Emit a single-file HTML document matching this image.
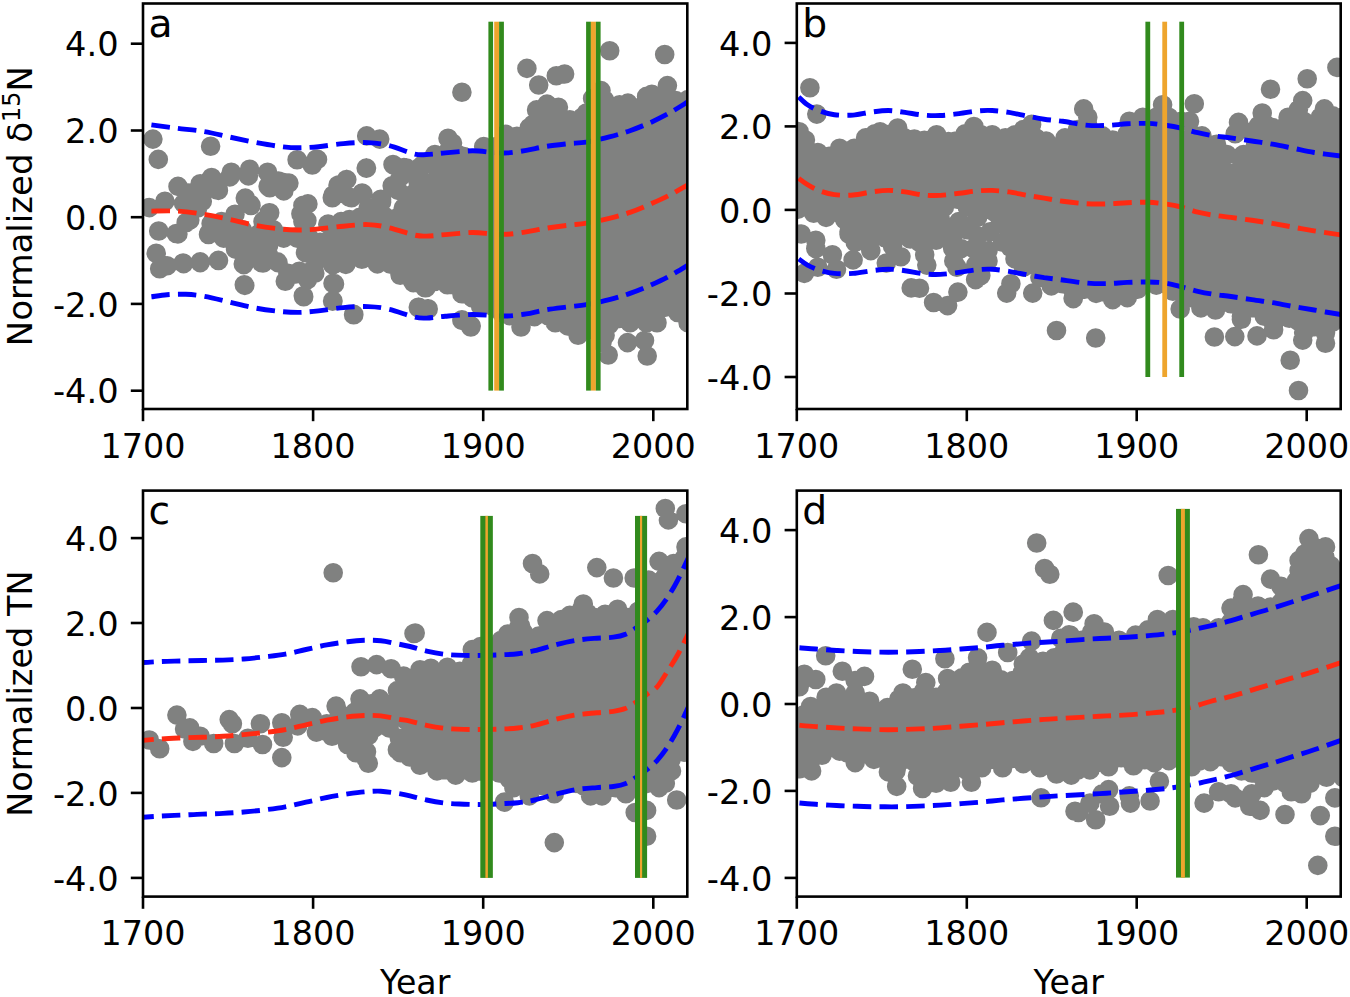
<!DOCTYPE html>
<html lang="en"><head><meta charset="utf-8"><title>Figure</title>
<style>html,body{margin:0;padding:0;background:#fff}svg{display:block}text{font-family:"DejaVu Sans","Liberation Sans",sans-serif;fill:#000}</style></head><body>
<svg width="1350" height="997" viewBox="0 0 1350 997">
<rect width="1350" height="997" fill="#fff"/>
<g id="panel-a">
<clipPath id="clipa"><rect x="143.0" y="3.5" width="544.3" height="405.5"/></clipPath>
<g clip-path="url(#clipa)">
<path d="M152.9 139.1h0M158.3 159.4h0M210.6 146.3h0M297.1 159.8h0M312.3 165.0h0M317.5 159.4h0M366.7 135.9h0M379.7 139.1h0M366.2 168.1h0M393.6 165.0h0M406.7 168.1h0M420.0 167.1h0M149.3 207.6h0M164.9 201.3h0M178.0 186.4h0M188.8 193.0h0M200.2 183.7h0M211.6 177.5h0M216.8 189.9h0M231.3 172.3h0M249.6 169.2h0M267.6 172.3h0M269.7 187.8h0M283.8 182.6h0M283.8 190.9h0M189.8 220.0h0M196.0 207.6h0M202.3 201.3h0M183.6 203.4h0M245.4 198.2h0M251.0 205.5h0M269.7 212.7h0M264.5 220.0h0M302.9 205.5h0M300.9 213.8h0M304.0 222.1h0M333.0 195.1h0M339.3 184.7h0M346.5 179.5h0M349.6 197.2h0M362.1 193.0h0M380.8 199.2h0M392.2 185.8h0M403.6 207.6h0M420.0 188.9h0M158.7 231.0h0M176.3 233.5h0M156.2 253.2h0M159.7 268.8h0M167.0 265.7h0M183.6 263.6h0M200.2 262.6h0M218.5 260.5h0M208.5 234.5h0M227.2 234.5h0M235.5 249.1h0M243.8 264.6h0M244.8 285.4h0M261.4 262.6h0M278.0 262.6h0M285.3 281.2h0M295.7 274.0h0M312.3 270.9h0M303.3 295.8h0M333.0 283.3h0M333.0 301.0h0M353.8 314.4h0M327.8 224.2h0M335.1 263.6h0M345.5 263.6h0M461.9 92.3h0M526.9 68.4h0M538.7 85.0h0M556.3 75.7h0M564.6 74.0h0M609.7 50.8h0M664.7 54.5h0M667.4 85.6h0M608.2 355.0h0M627.5 342.6h0M644.5 340.5h0M647.2 356.0h0M461.9 319.7h0M471.2 325.9h0M418.3 307.3h0M427.6 308.7h0M303.7 296.7h0M334.5 284.1h0M332.6 301.1h0M353.8 314.7h0M418.5 307.8h0M428.1 308.8h0M461.9 320.4h0M470.8 327.0h0M400.0 274.4h0M413.3 282.6h0M425.9 287.8h0M447.4 284.8h0M463.7 290.7h0M472.6 292.2h0M218.4 190.4h0M209.0 186.2h0M195.6 193.5h0M229.8 176.9h0M248.4 175.9h0M268.1 186.2h0M283.7 189.3h0M278.5 181.0h0M288.9 183.1h0M245.3 198.1h0M250.5 204.4h0M235.0 214.2h0M269.2 212.7h0M263.0 221.5h0M303.4 205.4h0M301.3 214.2h0M302.9 221.5h0M186.2 222.5h0M197.6 208.0h0M192.4 198.7h0M177.9 233.9h0M209.0 232.9h0M223.6 238.1h0M221.5 221.5h0M237.0 246.4h0M242.2 229.8h0M252.6 242.2h0M258.8 250.5h0M243.3 264.0h0M263.0 263.0h0M277.5 261.9h0M251.6 254.7h0M283.7 238.1h0M297.2 238.1h0M309.6 238.1h0M320.0 242.2h0M305.5 252.6h0M287.9 273.3h0M299.3 271.3h0M307.6 279.6h0M314.8 273.3h0M183.1 263.0h0M200.2 261.9h0M218.4 260.4h0M244.3 284.7h0M211.1 223.6h0M231.9 226.7h0M258.8 233.9h0M271.3 236.0h0M265.0 244.3h0M273.3 229.8h0M316.2 159.3h0M312.1 164.5h0M366.5 168.1h0M393.0 164.5h0M403.9 167.6h0M400.2 177.0h0M394.0 185.3h0M398.1 190.4h0M346.8 179.6h0M338.0 185.3h0M332.3 197.7h0M344.2 193.6h0M351.5 197.7h0M362.9 193.6h0M381.6 199.8h0M368.1 208.1h0M376.4 208.1h0M403.3 208.1h0M408.5 216.4h0M307.9 203.9h0M306.9 220.5h0M341.1 221.6h0M334.4 283.6h0M332.8 300.7h0M353.6 314.7h0M418.9 307.4h0M428.2 309.0h0M311.0 271.1h0M268.7 244.9h0M283.2 236.6h0M297.7 236.6h0M312.3 244.9h0M318.5 259.4h0M268.7 255.3h0M328.1 224.1h0M341.4 225.3h0M349.4 219.5h0M359.8 217.4h0M368.1 212.2h0M379.8 206.8h0M381.6 201.9h0M384.7 216.4h0M393.8 224.5h0M399.2 216.4h0M403.3 208.1h0M411.4 202.8h0M413.7 193.6h0M417.9 181.1h0M419.9 168.7h0M422.5 164.9h0M434.2 163.5h0M434.9 154.5h0M449.1 149.7h0M448.0 138.3h0M452.5 143.1h0M456.7 153.8h0M464.0 156.6h0M478.5 158.6h0M483.7 146.6h0M497.2 146.2h0M505.5 134.2h0M516.9 136.3h0M526.2 139.0h0M529.3 127.6h0M532.9 124.4h0M536.6 109.9h0M547.0 104.1h0M558.4 107.2h0M561.8 121.4h0M569.8 119.7h0M582.3 117.2h0M586.4 113.0h0M597.2 108.0h0M592.6 98.5h0M601.0 90.6h0M604.5 99.9h0M607.6 109.2h0M614.4 113.0h0M619.6 104.7h0M627.9 103.1h0M640.4 107.2h0M646.6 96.4h0M651.8 94.3h0M662.2 100.6h0M671.0 108.6h0M675.7 100.6h0M684.5 108.3h0M688.1 99.5h0M684.4 112.2h0M684.2 129.6h0M680.5 144.8h0M680.8 159.5h0M682.0 172.6h0M683.9 183.8h0M681.2 195.3h0M685.2 210.6h0M680.2 225.9h0M683.5 240.2h0M681.9 256.1h0M682.9 266.6h0M681.7 280.2h0M681.6 295.2h0M680.7 308.6h0M688.1 322.8h0M677.7 312.5h0M665.3 307.3h0M653.0 315.2h0M657.0 322.8h0M646.6 322.8h0M634.1 318.2h0M630.0 322.8h0M617.6 318.7h0M609.0 324.7h0M605.1 335.3h0M602.0 342.6h0M598.9 333.3h0M590.6 329.1h0M578.1 335.3h0M567.7 325.9h0M555.3 322.8h0M548.6 316.0h0M534.5 316.6h0M522.3 320.1h0M521.0 327.0h0M509.6 315.6h0M501.3 312.5h0M492.7 306.3h0M480.6 306.2h0M472.3 297.9h0M461.9 293.8h0M452.8 284.5h0M447.4 284.4h0M439.7 277.8h0M434.4 281.5h0M425.1 287.7h0M412.7 281.5h0M406.0 272.2h0M400.2 275.3h0M398.7 263.6h0M389.9 263.9h0M380.6 256.6h0M377.4 263.9h0M369.1 257.4h0M361.9 259.2h0M347.2 255.4h0M345.8 264.4h0M335.8 258.7h0M332.8 264.9h0M337.7 253.0h0M330.7 250.4h0M320.4 245.2h0M332.7 234.8h0M600.7 110.3h0M644.8 110.7h0M651.2 109.2h0M659.6 110.8h0M670.1 111.4h0M549.0 116.9h0M553.8 118.1h0M592.0 117.4h0M600.8 117.9h0M625.5 116.0h0M633.6 116.7h0M652.8 117.0h0M657.6 116.2h0M663.8 116.2h0M671.8 116.5h0M540.3 122.6h0M546.9 124.0h0M552.9 122.7h0M573.0 124.1h0M585.7 124.3h0M593.8 122.2h0M598.7 123.9h0M605.0 122.9h0M612.8 123.8h0M626.6 123.7h0M633.8 122.8h0M638.5 123.8h0M644.3 121.8h0M650.4 122.2h0M658.6 124.0h0M666.4 123.4h0M670.8 124.0h0M676.5 124.4h0M548.0 128.9h0M554.3 130.8h0M566.5 129.7h0M575.1 128.5h0M581.5 131.0h0M588.1 128.1h0M594.1 129.3h0M599.0 128.7h0M605.8 128.8h0M619.4 129.7h0M625.9 128.5h0M632.2 128.2h0M638.9 129.2h0M646.6 130.7h0M651.0 129.3h0M658.0 131.0h0M664.4 128.6h0M670.5 130.7h0M539.9 136.6h0M548.9 137.0h0M553.0 136.8h0M560.5 137.5h0M566.7 134.9h0M574.7 136.4h0M581.6 135.1h0M587.2 136.6h0M594.5 135.0h0M599.7 134.6h0M605.6 136.8h0M612.6 134.8h0M617.9 135.9h0M624.7 135.4h0M632.3 135.0h0M639.4 135.0h0M645.3 135.0h0M652.9 136.4h0M658.0 137.2h0M664.4 135.8h0M670.1 136.9h0M534.9 141.1h0M541.9 141.5h0M548.6 143.3h0M553.5 143.3h0M561.6 143.9h0M566.4 143.3h0M574.5 143.3h0M580.6 141.6h0M588.3 143.2h0M594.1 142.6h0M600.4 142.9h0M606.3 141.6h0M612.9 142.6h0M620.3 142.7h0M624.5 142.0h0M631.4 141.4h0M639.4 143.4h0M644.6 141.4h0M651.9 142.9h0M657.3 141.8h0M666.2 143.5h0M671.7 142.7h0M677.4 141.4h0M507.6 149.7h0M516.3 149.0h0M527.2 147.8h0M536.1 148.9h0M542.3 150.1h0M548.0 150.6h0M553.9 150.1h0M561.2 147.6h0M566.4 149.0h0M574.8 150.3h0M579.7 148.6h0M587.8 149.4h0M594.3 150.1h0M599.3 149.0h0M607.1 150.0h0M613.8 150.1h0M620.0 149.4h0M626.1 148.3h0M631.2 148.5h0M637.4 148.7h0M646.8 148.4h0M652.7 150.3h0M657.8 149.2h0M665.0 148.4h0M669.9 149.7h0M443.7 156.9h0M451.7 154.5h0M455.8 156.2h0M489.9 156.6h0M497.1 154.7h0M507.6 156.9h0M514.8 156.5h0M522.8 156.2h0M529.6 154.5h0M534.4 156.2h0M540.7 155.6h0M547.4 157.0h0M555.5 156.2h0M559.5 155.5h0M568.8 154.2h0M574.0 154.5h0M581.8 155.1h0M588.2 156.7h0M594.1 155.3h0M599.4 155.4h0M607.6 154.4h0M611.6 155.1h0M619.4 154.3h0M627.3 157.1h0M631.2 156.7h0M637.5 154.2h0M644.7 156.2h0M652.7 156.7h0M657.8 154.8h0M665.6 154.8h0M672.2 155.1h0M676.8 154.8h0M437.8 161.8h0M448.9 162.0h0M476.5 163.2h0M481.7 162.3h0M487.9 163.3h0M496.6 163.3h0M502.0 163.4h0M509.2 161.9h0M516.7 161.6h0M522.2 163.1h0M528.4 163.1h0M533.5 162.0h0M540.3 162.7h0M547.8 163.3h0M553.3 162.9h0M562.1 161.6h0M567.5 161.8h0M574.8 160.8h0M580.0 161.4h0M586.4 161.6h0M594.8 162.8h0M601.0 161.5h0M606.2 162.8h0M612.9 162.9h0M619.1 160.9h0M624.8 162.0h0M633.4 161.4h0M640.1 161.9h0M646.7 161.3h0M653.3 162.5h0M658.1 161.2h0M663.5 161.3h0M671.7 161.4h0M443.3 167.5h0M451.8 167.1h0M456.1 169.2h0M462.4 170.0h0M475.6 168.2h0M482.9 169.9h0M488.6 168.0h0M496.3 169.1h0M502.8 168.6h0M507.9 167.4h0M514.2 167.4h0M521.1 169.3h0M529.5 167.2h0M534.0 168.4h0M540.0 169.9h0M547.5 169.3h0M554.6 167.3h0M561.0 168.8h0M568.3 167.2h0M572.7 169.5h0M579.8 169.3h0M586.9 168.6h0M593.6 168.8h0M600.0 167.9h0M607.3 169.8h0M612.9 169.3h0M618.2 167.3h0M625.7 167.9h0M633.0 168.5h0M640.4 169.8h0M644.8 170.1h0M651.1 167.7h0M658.3 167.9h0M665.5 169.2h0M671.7 169.2h0M438.0 176.0h0M444.7 175.1h0M449.5 174.0h0M456.1 174.2h0M462.5 173.7h0M471.3 175.7h0M476.8 176.0h0M482.1 176.2h0M488.0 174.0h0M495.4 174.2h0M503.8 173.6h0M508.5 176.5h0M515.7 174.2h0M520.7 175.7h0M527.6 176.4h0M535.9 174.0h0M541.3 174.5h0M548.2 174.7h0M553.5 174.9h0M559.9 174.2h0M567.1 174.8h0M574.7 176.4h0M580.8 173.9h0M586.5 173.6h0M592.6 173.7h0M598.6 174.2h0M606.0 176.4h0M613.9 174.5h0M619.6 173.7h0M626.4 174.0h0M632.7 174.3h0M639.4 174.0h0M645.7 174.4h0M652.3 175.1h0M657.1 174.4h0M663.5 174.7h0M672.2 174.6h0M678.2 176.0h0M432.0 182.7h0M437.4 180.2h0M443.3 180.4h0M449.9 181.7h0M458.0 180.3h0M462.5 181.2h0M469.6 180.2h0M475.6 180.8h0M481.5 180.1h0M490.6 181.5h0M495.7 181.9h0M502.2 181.3h0M510.0 181.7h0M516.8 180.9h0M521.8 182.2h0M528.2 181.6h0M533.6 181.1h0M540.5 180.6h0M547.2 183.1h0M555.2 181.3h0M560.2 181.6h0M567.7 181.3h0M573.4 183.1h0M580.2 183.0h0M585.4 181.7h0M592.6 180.4h0M599.4 182.2h0M605.2 181.3h0M613.4 182.5h0M619.1 181.5h0M624.5 182.5h0M632.7 180.4h0M640.0 181.0h0M644.1 181.7h0M652.8 180.6h0M657.0 180.4h0M665.0 180.3h0M672.3 182.3h0M432.3 187.0h0M437.2 187.3h0M443.6 189.3h0M449.6 188.6h0M457.6 186.8h0M464.5 187.0h0M468.8 189.3h0M477.7 188.5h0M483.9 188.3h0M490.8 187.4h0M496.3 188.0h0M501.9 188.2h0M508.2 188.8h0M515.3 187.9h0M522.0 189.2h0M528.1 187.9h0M536.3 188.7h0M540.0 187.2h0M549.3 188.6h0M553.3 188.9h0M559.5 188.3h0M568.5 188.5h0M575.0 187.5h0M579.4 189.6h0M587.0 188.0h0M593.5 188.3h0M601.0 186.8h0M606.2 187.9h0M612.6 188.0h0M619.1 187.6h0M625.1 187.2h0M631.0 187.2h0M640.1 188.8h0M645.7 188.1h0M653.3 187.0h0M657.2 189.3h0M664.4 189.1h0M671.1 189.4h0M425.0 195.0h0M430.9 193.5h0M436.0 194.9h0M444.0 195.1h0M449.2 194.9h0M457.2 195.7h0M464.1 193.5h0M470.7 193.4h0M475.3 195.1h0M483.5 194.9h0M490.0 195.0h0M495.8 194.3h0M503.4 195.2h0M509.0 195.3h0M514.4 193.6h0M520.7 194.1h0M527.8 194.0h0M535.4 195.8h0M540.5 194.7h0M547.8 194.5h0M554.3 195.1h0M560.1 194.5h0M566.3 194.8h0M575.1 194.1h0M581.4 194.7h0M585.7 195.7h0M593.8 194.4h0M600.0 194.8h0M607.6 194.2h0M613.5 194.3h0M620.3 195.7h0M626.0 194.4h0M633.7 193.6h0M638.7 193.3h0M646.2 195.3h0M651.6 194.4h0M656.9 194.5h0M664.7 193.9h0M672.2 195.8h0M677.6 194.8h0M416.5 199.8h0M423.4 200.8h0M431.9 200.1h0M438.8 201.3h0M443.7 200.1h0M450.5 200.6h0M458.3 200.8h0M462.9 200.2h0M471.2 200.1h0M477.2 200.2h0M481.9 199.8h0M490.1 199.7h0M494.6 202.1h0M502.5 200.8h0M508.6 202.5h0M516.6 200.2h0M523.0 199.9h0M527.5 200.6h0M533.8 202.3h0M542.5 199.9h0M546.5 200.2h0M553.4 200.3h0M562.3 201.3h0M568.2 202.3h0M572.5 201.2h0M580.2 201.6h0M586.6 200.0h0M593.3 200.3h0M599.7 202.4h0M607.3 200.1h0M614.1 201.3h0M618.2 201.1h0M626.6 201.3h0M632.4 200.0h0M640.0 202.1h0M644.2 200.1h0M650.5 200.3h0M658.2 200.2h0M666.3 200.3h0M672.5 201.3h0M412.1 206.4h0M419.3 207.5h0M424.8 208.3h0M430.3 207.8h0M437.0 208.8h0M444.6 208.5h0M450.4 207.5h0M456.6 206.7h0M461.9 208.5h0M470.8 207.7h0M476.0 208.2h0M481.7 208.2h0M490.3 208.7h0M494.4 208.7h0M503.5 207.1h0M509.5 208.4h0M514.4 207.5h0M521.7 208.1h0M527.0 207.9h0M534.0 207.5h0M540.9 207.7h0M547.5 208.6h0M553.4 207.0h0M561.1 208.6h0M566.5 208.4h0M575.0 207.2h0M579.9 208.8h0M587.0 208.1h0M592.0 206.7h0M599.3 208.7h0M606.0 207.7h0M612.9 206.5h0M619.4 208.4h0M627.2 207.5h0M632.9 207.1h0M639.0 208.5h0M646.1 207.8h0M650.9 209.0h0M659.4 207.0h0M665.0 207.1h0M671.3 206.8h0M678.7 206.3h0M419.0 214.2h0M423.1 214.6h0M430.9 214.0h0M437.3 214.6h0M444.1 213.1h0M450.5 213.5h0M458.0 214.0h0M462.1 213.3h0M471.3 214.7h0M477.3 215.2h0M483.5 213.8h0M488.9 214.8h0M497.0 213.6h0M501.1 212.6h0M508.4 214.3h0M516.8 213.6h0M522.7 215.0h0M528.1 215.5h0M536.2 213.7h0M541.4 213.1h0M547.6 215.3h0M554.8 214.1h0M559.4 213.2h0M567.9 213.6h0M574.9 214.3h0M579.5 214.4h0M585.9 215.3h0M594.3 215.4h0M600.2 214.2h0M605.6 215.4h0M611.8 214.7h0M619.2 214.1h0M627.3 213.7h0M631.8 213.8h0M639.6 213.2h0M644.1 213.0h0M653.1 213.3h0M658.3 213.1h0M666.1 214.1h0M671.8 212.8h0M366.9 220.1h0M373.6 221.1h0M385.6 221.7h0M405.3 220.7h0M416.8 220.8h0M423.2 220.5h0M431.4 219.5h0M438.2 219.4h0M445.1 220.8h0M451.5 219.1h0M456.3 220.6h0M463.9 220.4h0M468.6 219.3h0M475.0 220.6h0M481.6 221.2h0M488.1 219.3h0M495.4 220.1h0M503.1 221.6h0M509.3 222.1h0M516.4 220.1h0M522.3 221.4h0M527.4 221.3h0M535.4 220.2h0M542.6 220.4h0M548.4 219.4h0M554.3 219.6h0M559.4 221.2h0M567.5 220.2h0M573.3 220.8h0M580.6 219.3h0M586.5 222.0h0M592.6 219.3h0M598.8 221.6h0M607.1 219.4h0M612.5 221.4h0M620.3 221.2h0M624.5 221.2h0M632.7 220.0h0M640.0 221.7h0M644.8 222.1h0M652.2 220.7h0M659.9 221.6h0M664.3 220.6h0M670.6 219.3h0M676.5 221.7h0M365.7 228.2h0M371.9 225.8h0M377.5 226.2h0M385.6 228.6h0M391.8 226.5h0M404.6 227.3h0M412.6 226.7h0M417.0 228.4h0M424.4 228.5h0M430.4 225.7h0M437.1 227.9h0M444.8 227.8h0M448.9 227.2h0M457.6 226.3h0M462.2 226.5h0M470.0 227.6h0M477.7 226.7h0M484.0 226.6h0M489.9 227.2h0M496.8 228.5h0M503.9 227.2h0M508.1 227.8h0M514.6 226.1h0M521.3 227.0h0M528.7 227.8h0M535.7 227.1h0M541.1 226.2h0M548.0 227.3h0M553.2 227.6h0M561.4 226.7h0M566.0 226.8h0M573.1 227.8h0M579.0 227.0h0M587.9 227.6h0M594.7 228.4h0M600.6 227.1h0M606.5 227.4h0M612.5 228.5h0M620.5 226.7h0M627.3 226.9h0M633.0 227.9h0M638.1 227.0h0M644.9 227.6h0M652.4 228.1h0M656.9 228.1h0M665.5 227.6h0M671.8 227.3h0M679.2 227.4h0M345.5 233.0h0M353.1 233.8h0M365.8 232.7h0M371.6 233.8h0M377.8 233.1h0M386.0 233.3h0M390.8 233.5h0M398.0 232.5h0M404.4 232.4h0M412.6 234.2h0M419.1 233.7h0M424.4 232.4h0M431.7 234.0h0M436.8 232.8h0M443.5 232.2h0M450.7 232.2h0M458.2 233.1h0M464.1 234.6h0M471.0 233.6h0M475.6 234.2h0M483.6 232.4h0M489.1 234.5h0M495.2 233.4h0M502.8 233.4h0M509.1 233.9h0M514.8 233.9h0M522.6 235.1h0M529.1 232.3h0M534.1 234.6h0M540.7 233.8h0M548.0 233.4h0M554.0 233.1h0M560.2 234.3h0M567.5 234.4h0M574.0 233.4h0M579.5 233.9h0M587.0 234.8h0M593.1 234.8h0M598.4 232.6h0M606.6 232.4h0M611.8 234.3h0M620.8 232.3h0M625.7 233.0h0M632.9 234.1h0M637.6 233.9h0M646.8 233.1h0M650.8 232.3h0M657.9 232.2h0M664.0 234.1h0M670.9 232.2h0M678.5 234.5h0M332.9 241.1h0M339.0 240.5h0M345.8 238.9h0M352.0 241.0h0M358.0 241.3h0M365.5 241.0h0M371.3 240.4h0M378.7 239.5h0M385.9 239.6h0M390.7 240.3h0M397.1 240.1h0M404.2 241.1h0M411.7 240.9h0M416.8 240.1h0M424.8 238.6h0M430.6 239.8h0M437.0 240.9h0M443.3 239.3h0M450.1 240.5h0M455.9 238.9h0M463.9 241.4h0M470.8 239.3h0M475.1 240.2h0M481.4 241.0h0M489.3 239.3h0M495.3 239.5h0M501.1 239.4h0M508.9 240.7h0M514.4 239.6h0M522.2 238.8h0M528.9 240.7h0M534.0 241.3h0M541.2 240.0h0M546.5 239.6h0M554.2 241.1h0M560.6 241.0h0M566.7 238.7h0M575.3 240.6h0M579.0 240.1h0M587.7 241.1h0M592.2 239.2h0M599.6 239.4h0M604.9 240.5h0M612.5 241.3h0M618.4 240.9h0M625.7 239.5h0M633.5 240.0h0M638.7 239.3h0M645.4 239.7h0M652.7 239.1h0M657.1 241.3h0M664.5 239.7h0M672.7 239.8h0M677.9 240.2h0M346.0 246.6h0M358.2 247.4h0M371.2 247.2h0M379.0 245.1h0M386.6 247.1h0M391.7 245.6h0M398.0 246.1h0M403.8 247.1h0M411.8 247.2h0M417.2 247.6h0M424.8 246.7h0M430.7 247.8h0M436.6 245.4h0M442.8 247.9h0M451.3 247.2h0M457.2 245.9h0M463.6 246.9h0M471.0 248.1h0M477.5 245.4h0M482.6 247.3h0M490.2 245.8h0M496.3 246.6h0M503.3 245.9h0M510.3 247.2h0M514.2 247.3h0M521.6 246.9h0M529.2 245.9h0M534.3 246.8h0M541.2 246.8h0M549.0 247.0h0M554.3 247.2h0M559.7 245.7h0M566.8 247.4h0M574.3 247.5h0M578.9 245.7h0M587.7 246.4h0M594.5 246.6h0M599.4 247.1h0M607.8 247.5h0M612.1 246.0h0M619.3 247.4h0M627.0 245.5h0M632.7 248.0h0M639.4 247.7h0M644.1 245.6h0M652.7 248.0h0M658.5 245.9h0M665.3 245.4h0M670.8 247.4h0M676.9 245.8h0M347.0 251.6h0M359.8 251.9h0M372.9 252.1h0M386.5 254.6h0M392.2 254.2h0M397.3 252.9h0M404.4 252.2h0M411.1 253.0h0M418.0 253.2h0M423.9 253.3h0M429.6 253.0h0M436.8 253.2h0M445.1 253.6h0M449.4 253.7h0M455.5 254.4h0M462.7 253.6h0M469.9 254.6h0M475.6 253.5h0M483.7 254.0h0M489.7 253.8h0M495.1 251.8h0M501.4 254.1h0M508.6 252.8h0M514.5 252.2h0M522.3 252.9h0M528.6 252.5h0M536.2 252.8h0M540.8 252.2h0M549.1 254.1h0M554.6 254.4h0M562.3 253.1h0M566.4 254.5h0M573.7 254.0h0M579.7 253.0h0M586.0 254.1h0M593.5 253.5h0M598.8 254.0h0M607.4 253.1h0M612.9 253.8h0M619.8 254.1h0M626.0 254.5h0M631.2 253.7h0M637.6 251.6h0M646.5 252.1h0M652.0 253.1h0M658.9 252.1h0M665.7 252.7h0M672.3 251.7h0M397.6 260.3h0M403.9 259.8h0M412.8 259.9h0M418.2 258.4h0M424.0 260.2h0M429.5 258.7h0M438.0 260.5h0M444.0 259.8h0M450.4 260.3h0M457.5 260.4h0M463.3 260.4h0M468.7 259.3h0M475.8 258.8h0M483.5 260.0h0M489.4 258.5h0M496.6 260.5h0M503.2 259.1h0M509.1 260.1h0M514.4 259.5h0M521.3 258.3h0M529.6 258.3h0M535.5 260.1h0M540.3 261.0h0M548.7 258.6h0M555.5 260.1h0M561.4 258.7h0M566.7 260.3h0M572.5 259.9h0M581.4 260.8h0M587.2 259.8h0M592.9 259.2h0M599.3 259.2h0M606.5 259.0h0M612.7 260.7h0M620.3 259.9h0M626.9 259.3h0M633.3 258.3h0M637.8 259.6h0M644.7 258.3h0M653.1 258.6h0M658.6 259.7h0M665.5 260.4h0M671.6 258.8h0M678.3 260.8h0M398.5 265.1h0M403.9 265.8h0M410.9 265.8h0M417.0 265.4h0M425.3 264.6h0M430.5 266.9h0M436.2 266.8h0M442.4 267.4h0M450.2 266.1h0M457.4 265.0h0M462.8 266.7h0M470.2 265.1h0M477.0 265.2h0M483.6 265.3h0M490.7 266.5h0M496.9 267.4h0M502.9 266.0h0M507.9 265.5h0M515.9 265.4h0M521.5 265.8h0M529.7 267.2h0M535.3 267.2h0M542.0 265.2h0M549.3 266.2h0M553.5 265.0h0M560.3 265.9h0M567.4 266.7h0M575.2 265.1h0M580.9 266.0h0M585.9 265.4h0M592.7 264.6h0M601.1 264.9h0M605.3 265.9h0M613.0 264.7h0M619.2 266.2h0M626.8 265.6h0M633.4 265.4h0M640.1 264.9h0M646.5 266.9h0M653.2 266.7h0M659.2 266.1h0M663.4 267.3h0M672.4 267.0h0M682.9 265.9h0M418.1 271.8h0M423.8 273.3h0M430.3 273.7h0M438.8 272.1h0M449.7 274.0h0M457.7 273.4h0M464.3 271.9h0M469.2 273.7h0M476.1 272.7h0M481.4 271.7h0M489.5 273.4h0M496.1 273.7h0M503.5 273.3h0M509.0 272.6h0M515.1 272.7h0M522.7 272.5h0M528.2 273.7h0M534.9 271.4h0M541.4 271.4h0M547.3 273.2h0M553.8 272.8h0M561.3 271.2h0M568.2 273.4h0M575.0 273.0h0M580.5 271.4h0M587.7 273.7h0M592.5 271.4h0M600.1 272.6h0M607.7 272.8h0M611.8 271.3h0M619.4 272.9h0M626.2 272.8h0M632.4 271.4h0M639.0 272.2h0M645.1 273.3h0M650.4 271.2h0M657.6 271.8h0M666.0 271.4h0M670.5 271.7h0M678.2 273.4h0M456.8 277.7h0M462.9 280.0h0M469.2 280.1h0M476.9 278.8h0M482.9 279.9h0M489.5 278.2h0M495.5 279.7h0M503.0 279.9h0M509.8 278.4h0M515.8 279.3h0M521.8 280.6h0M529.1 280.4h0M535.9 277.8h0M542.2 280.3h0M548.2 278.6h0M555.5 278.5h0M560.1 280.4h0M566.0 278.1h0M574.5 280.0h0M580.1 279.6h0M587.4 279.6h0M594.4 279.2h0M599.3 280.3h0M606.9 279.0h0M613.6 278.1h0M618.2 280.6h0M625.7 279.2h0M631.6 280.4h0M639.9 280.5h0M646.9 279.2h0M653.3 278.5h0M659.7 278.6h0M666.3 277.6h0M672.1 278.9h0M679.3 280.5h0M457.6 284.5h0M475.3 285.6h0M482.6 284.4h0M489.3 287.1h0M495.0 284.7h0M502.6 286.8h0M508.7 286.7h0M516.2 286.9h0M522.6 286.8h0M528.6 286.3h0M535.3 286.5h0M542.5 284.1h0M549.4 285.4h0M554.6 286.5h0M562.0 286.6h0M568.6 285.2h0M574.8 286.1h0M580.8 286.4h0M585.6 284.4h0M593.6 285.3h0M598.8 285.8h0M605.0 286.7h0M613.1 286.5h0M620.3 284.4h0M625.6 285.2h0M632.9 284.3h0M639.6 287.0h0M644.0 284.8h0M651.3 284.5h0M657.3 286.0h0M665.8 286.9h0M670.9 286.5h0M488.2 292.4h0M496.4 291.1h0M502.9 293.3h0M509.2 290.9h0M515.1 290.7h0M522.0 293.1h0M528.0 292.0h0M536.3 293.6h0M539.9 293.4h0M546.6 290.9h0M554.8 292.3h0M559.5 290.8h0M567.9 290.9h0M573.6 291.3h0M579.1 291.5h0M587.8 293.4h0M592.8 291.3h0M599.9 293.1h0M605.4 293.3h0M613.8 292.1h0M618.6 292.7h0M626.7 292.4h0M631.1 292.2h0M637.5 293.5h0M644.0 291.8h0M653.2 291.4h0M659.7 292.4h0M672.4 292.6h0M495.6 298.7h0M503.1 298.1h0M507.5 298.9h0M516.0 297.7h0M520.5 300.0h0M529.3 299.9h0M536.0 299.8h0M542.1 297.9h0M547.8 297.6h0M555.7 297.8h0M560.6 297.8h0M567.8 299.6h0M574.3 297.8h0M580.8 297.8h0M587.6 297.5h0M593.5 299.9h0M600.9 300.1h0M606.1 298.8h0M613.7 298.1h0M618.4 299.1h0M625.9 297.6h0M633.7 299.9h0M640.2 297.5h0M646.4 299.2h0M651.0 297.3h0M657.4 297.1h0M665.4 299.9h0M670.7 300.1h0M677.0 298.5h0M496.8 303.8h0M509.4 303.9h0M514.1 305.1h0M521.3 304.2h0M527.2 304.2h0M540.2 304.3h0M549.0 304.6h0M553.5 304.9h0M559.9 304.8h0M568.1 306.3h0M572.4 306.4h0M580.5 304.4h0M588.3 303.9h0M593.0 306.1h0M600.6 304.3h0M606.5 303.9h0M613.7 305.6h0M620.4 306.0h0M626.4 304.9h0M632.0 306.0h0M639.4 304.9h0M645.4 305.7h0M652.3 305.9h0M522.7 311.1h0M534.8 310.3h0M555.4 310.9h0M566.7 312.2h0M574.5 310.6h0M579.0 312.3h0M588.0 312.9h0M592.7 312.8h0M601.2 311.4h0M607.6 310.7h0M632.2 310.6h0M646.4 311.3h0M652.7 311.3h0M560.5 316.8h0M573.2 317.7h0M580.9 317.6h0M586.0 317.3h0M600.2 318.8h0M639.7 317.2h0M585.9 323.8h0M594.8 323.5h0M598.9 323.4h0" fill="none" stroke="#808180" stroke-width="19.6" stroke-linecap="round"/>
<path d="M151.4 124.9C155.7 125.5 168.5 127.2 177.4 128.3C186.2 129.4 195.7 130.1 204.3 131.6C213.0 133.0 220.6 135.1 229.2 137.0C237.9 138.8 247.2 140.9 256.2 142.6C265.2 144.2 275.9 146.1 283.2 146.9C290.5 147.8 293.9 147.8 299.8 147.8C305.7 147.7 311.2 147.4 318.5 146.7C325.8 146.0 335.1 144.3 343.4 143.6C351.7 142.9 360.7 142.2 368.3 142.6C375.9 142.9 381.4 143.8 389.1 145.7C396.7 147.6 407.9 152.4 414.2 153.9C420.4 155.4 421.4 154.7 426.6 154.5C431.8 154.4 437.7 153.5 445.3 152.9C452.9 152.2 464.3 150.9 472.3 150.8C480.2 150.7 487.1 152.1 493.0 152.5C498.9 152.8 502.0 153.2 507.6 152.9C513.1 152.5 520.0 151.4 526.2 150.4C532.5 149.3 538.0 147.8 544.9 146.6C551.8 145.5 560.8 144.5 567.7 143.7C574.7 143.0 579.5 143.2 586.4 142.1C593.3 140.9 602.0 138.8 609.3 136.9C616.5 135.0 623.1 133.1 630.0 130.7C636.9 128.2 644.2 125.3 650.8 122.4C657.3 119.4 663.2 116.5 669.4 113.0C675.7 109.6 685.0 103.5 688.1 101.6" fill="none" stroke="#0000ff" stroke-width="4.9" stroke-dasharray="18.5 8.2" stroke-dashoffset="0"/>
<path d="M151.4 296.8C154.0 296.5 161.3 295.1 167.0 294.7C172.7 294.3 179.4 294.0 185.7 294.3C191.9 294.6 197.1 295.1 204.3 296.4C211.6 297.7 220.6 300.0 229.2 302.0C237.9 304.0 247.2 306.6 256.2 308.2C265.2 309.8 275.9 311.1 283.2 311.7C290.5 312.4 293.9 312.5 299.8 312.4C305.7 312.2 311.2 311.7 318.5 310.9C325.8 310.1 335.1 308.3 343.4 307.6C351.7 306.9 360.7 306.3 368.3 306.6C375.9 306.8 381.4 307.5 389.1 309.3C396.7 311.0 407.9 315.6 414.2 317.0C420.4 318.5 421.4 318.2 426.6 318.1C431.8 317.9 437.7 316.8 445.3 316.2C452.9 315.6 464.3 314.6 472.3 314.5C480.2 314.4 487.1 315.3 493.0 315.6C498.9 315.8 502.0 316.3 507.6 316.0C513.1 315.7 520.0 314.9 526.2 313.9C532.5 312.9 538.0 311.1 544.9 310.0C551.8 308.8 560.8 307.8 567.7 306.9C574.7 306.0 579.5 305.8 586.4 304.6C593.3 303.4 602.0 301.5 609.3 299.6C616.5 297.7 623.1 295.8 630.0 293.4C636.9 290.9 644.2 287.9 650.8 285.1C657.3 282.2 663.2 279.5 669.4 276.1C675.7 272.8 685.0 267.0 688.1 265.1" fill="none" stroke="#0000ff" stroke-width="4.9" stroke-dasharray="18.5 8.2" stroke-dashoffset="0"/>
<path d="M151.4 211.1C155.7 211.1 168.5 210.5 177.4 211.1C186.2 211.6 195.7 213.0 204.3 214.4C213.0 215.8 220.6 217.5 229.2 219.4C237.9 221.2 247.2 223.9 256.2 225.6C265.2 227.3 275.9 228.6 283.2 229.3C290.5 230.1 293.9 230.0 299.8 230.0C305.7 229.9 311.2 229.6 318.5 228.9C325.8 228.3 335.1 227.0 343.4 226.2C351.7 225.5 360.7 224.3 368.3 224.6C375.9 224.8 381.4 225.9 389.1 227.7C396.7 229.4 407.9 233.6 414.2 235.0C420.4 236.4 421.4 236.1 426.6 236.1C431.8 236.0 437.7 235.2 445.3 234.6C452.9 234.0 464.3 232.7 472.3 232.5C480.2 232.4 487.1 233.7 493.0 234.0C498.9 234.3 502.0 234.6 507.6 234.2C513.1 233.9 520.0 232.9 526.2 231.9C532.5 231.0 538.0 229.5 544.9 228.4C551.8 227.3 560.8 226.1 567.7 225.3C574.7 224.4 579.5 224.4 586.4 223.2C593.3 222.1 602.0 220.2 609.3 218.4C616.5 216.6 623.1 214.8 630.0 212.4C636.9 210.0 644.2 206.8 650.8 203.9C657.3 201.0 663.2 198.4 669.4 195.2C675.7 192.0 685.0 186.5 688.1 184.8" fill="none" stroke="#ff2a12" stroke-width="4.9" stroke-dasharray="18.5 8.2" stroke-dashoffset="0"/>
<rect x="488.4" y="21.7" width="4.70" height="368.9" fill="#318a1d"/>
<rect x="494.2" y="21.7" width="4.90" height="368.9" fill="#eea52d"/>
<rect x="499.1" y="21.7" width="4.80" height="368.9" fill="#318a1d"/>
<rect x="586.1" y="21.7" width="4.80" height="368.9" fill="#318a1d"/>
<rect x="590.9" y="21.7" width="5.00" height="368.9" fill="#eea52d"/>
<rect x="595.9" y="21.7" width="4.70" height="368.9" fill="#318a1d"/>
</g>
<rect x="143.0" y="3.5" width="544.3" height="405.5" fill="none" stroke="#000" stroke-width="2.6"/>
<line x1="143.0" y1="409.0" x2="143.0" y2="421.2" stroke="#000" stroke-width="2.6"/>
<text transform="translate(143.0 457.8) scale(0.968 1)" font-size="34.5" text-anchor="middle">1700</text>
<line x1="313.1" y1="409.0" x2="313.1" y2="421.2" stroke="#000" stroke-width="2.6"/>
<text transform="translate(313.1 457.8) scale(0.968 1)" font-size="34.5" text-anchor="middle">1800</text>
<line x1="483.2" y1="409.0" x2="483.2" y2="421.2" stroke="#000" stroke-width="2.6"/>
<text transform="translate(483.2 457.8) scale(0.968 1)" font-size="34.5" text-anchor="middle">1900</text>
<line x1="653.3" y1="409.0" x2="653.3" y2="421.2" stroke="#000" stroke-width="2.6"/>
<text transform="translate(653.3 457.8) scale(0.968 1)" font-size="34.5" text-anchor="middle">2000</text>
<line x1="143.0" y1="43.7" x2="130.8" y2="43.7" stroke="#000" stroke-width="2.6"/>
<text transform="translate(118.6 56.4) scale(0.975 1)" font-size="34.5" text-anchor="end">4.0</text>
<line x1="143.0" y1="130.5" x2="130.8" y2="130.5" stroke="#000" stroke-width="2.6"/>
<text transform="translate(118.6 143.2) scale(0.975 1)" font-size="34.5" text-anchor="end">2.0</text>
<line x1="143.0" y1="217.2" x2="130.8" y2="217.2" stroke="#000" stroke-width="2.6"/>
<text transform="translate(118.6 229.9) scale(0.975 1)" font-size="34.5" text-anchor="end">0.0</text>
<line x1="143.0" y1="303.9" x2="130.8" y2="303.9" stroke="#000" stroke-width="2.6"/>
<text transform="translate(118.6 316.6) scale(0.975 1)" font-size="34.5" text-anchor="end">-2.0</text>
<line x1="143.0" y1="390.7" x2="130.8" y2="390.7" stroke="#000" stroke-width="2.6"/>
<text transform="translate(118.6 403.4) scale(0.975 1)" font-size="34.5" text-anchor="end">-4.0</text>
<text x="148.4" y="37.2" font-size="39.3">a</text>
</g>
<g id="panel-b">
<clipPath id="clipb"><rect x="796.8" y="3.5" width="543.9" height="405.5"/></clipPath>
<g clip-path="url(#clipb)">
<path d="M809.9 87.7h0M816.8 114.1h0M804.3 273.4h0M817.8 267.2h0M801.2 234.0h0M815.8 240.2h0M815.8 248.5h0M832.4 254.7h0M836.5 269.2h0M853.1 259.9h0M807.5 194.5h0M813.7 213.2h0M826.1 217.4h0M849.0 234.0h0M855.2 242.3h0M870.8 250.6h0M865.6 238.1h0M886.3 263.0h0M900.9 256.8h0M892.6 246.4h0M924.7 254.7h0M926.8 265.1h0M919.5 242.3h0M936.1 240.2h0M953.8 260.9h0M956.9 267.2h0M952.7 248.5h0M911.2 287.9h0M919.5 288.3h0M933.6 302.5h0M947.6 305.6h0M957.9 292.1h0M975.6 279.6h0M980.8 275.5h0M975.6 265.1h0M988.0 260.9h0M1010.9 283.8h0M1006.7 293.1h0M1032.7 293.1h0M1051.3 285.9h0M1039.9 269.2h0M1023.3 267.2h0M1073.1 298.3h0M1056.5 330.5h0M952.7 238.1h0M961.0 248.5h0M973.5 248.5h0M988.0 250.6h0M967.3 229.8h0M977.6 236.0h0M1083.7 108.9h0M1194.3 103.7h0M1238.5 122.4h0M1235.2 133.8h0M1270.5 89.2h0M1307.2 78.8h0M1336.9 67.4h0M1180.2 309.0h0M1257.0 335.9h0M1273.6 329.7h0M1302.7 340.1h0M1325.5 343.2h0M1095.7 338.0h0M1214.4 337.0h0M1234.8 336.6h0M1290.2 360.2h0M1298.5 390.5h0M1241.4 319.3h0M959.0 221.5h0M990.1 231.9h0M790.8 127.6h0M799.2 131.7h0M805.4 140.0h0M809.3 153.4h0M817.8 152.5h0M829.2 156.3h0M839.6 148.3h0M850.4 152.6h0M854.2 148.3h0M864.6 146.1h0M865.6 137.9h0M874.9 133.8h0M880.1 131.7h0M889.5 134.4h0M897.7 128.0h0M904.3 137.7h0M914.3 139.0h0M924.3 140.2h0M936.6 134.8h0M948.5 141.6h0M955.9 141.0h0M965.2 133.8h0M973.9 126.5h0M981.1 134.8h0M992.2 134.8h0M1005.3 137.9h0M1015.0 134.8h0M1023.3 129.6h0M1031.6 124.4h0M1035.8 137.9h0M1046.1 141.0h0M1057.3 149.7h0M1062.7 146.2h0M1065.0 137.9h0M1074.4 135.9h0M1077.5 129.6h0M1087.4 123.5h0M1087.8 117.2h0M1090.2 132.5h0M1102.4 135.9h0M1112.7 140.0h0M1127.0 134.1h0M1129.3 121.3h0M1142.8 117.2h0M1156.3 117.2h0M1162.6 104.7h0M1158.7 116.0h0M1168.8 117.2h0M1174.9 125.4h0M1181.2 121.3h0M1189.5 121.3h0M1194.2 135.6h0M1202.0 135.9h0M1210.4 145.1h0M1216.5 144.2h0M1219.4 155.1h0M1226.9 154.5h0M1239.9 157.3h0M1243.5 154.5h0M1255.4 145.2h0M1251.8 131.7h0M1258.4 125.6h0M1262.2 113.0h0M1265.8 125.0h0M1272.6 127.6h0M1284.2 129.4h0M1288.1 117.2h0M1298.4 109.6h0M1302.7 100.6h0M1297.6 112.6h0M1303.7 121.3h0M1313.2 126.0h0M1320.3 117.2h0M1324.4 108.9h0M1332.8 115.9h0M1343.1 117.2h0M1336.7 126.2h0M1338.7 143.3h0M1339.4 153.7h0M1336.5 171.4h0M1339.4 183.3h0M1335.1 200.4h0M1336.1 212.2h0M1338.6 226.2h0M1339.5 240.6h0M1335.6 257.5h0M1337.1 273.2h0M1340.5 284.2h0M1337.1 297.6h0M1336.1 310.2h0M1343.1 316.2h0M1332.3 322.2h0M1325.5 332.8h0M1314.4 326.7h0M1303.7 332.8h0M1298.2 321.1h0M1289.2 318.3h0M1274.8 318.8h0M1273.6 324.5h0M1271.8 313.2h0M1264.3 316.2h0M1254.6 307.7h0M1241.4 316.2h0M1239.9 303.4h0M1231.0 303.8h0M1218.7 300.5h0M1215.5 310.0h0M1206.6 305.5h0M1200.9 307.9h0M1196.7 295.0h0M1189.5 297.6h0M1181.0 290.5h0M1172.9 291.3h0M1166.5 284.3h0M1156.3 285.1h0M1143.9 280.3h0M1137.6 289.2h0M1129.1 291.9h0M1127.3 297.6h0M1118.6 293.8h0M1112.7 299.6h0M1102.3 291.7h0M1096.1 293.4h0M1084.7 289.3h0M1073.3 298.6h0M1072.3 289.3h0M1062.7 283.8h0M1055.7 275.5h0M1039.9 277.6h0M1032.4 264.8h0M1020.3 258.4h0M1015.0 258.9h0M1010.4 247.4h0M1002.6 242.3h0M1008.1 228.0h0M1000.5 221.5h0M994.8 212.2h0M981.8 211.1h0M977.6 217.4h0M967.3 207.0h0M957.1 199.2h0M944.4 207.0h0M940.1 218.5h0M944.4 227.7h0M936.1 240.2h0M924.2 236.7h0M919.5 242.3h0M910.2 239.0h0M892.6 244.3h0M884.7 237.6h0M872.6 235.3h0M867.6 240.2h0M859.0 228.2h0M849.0 231.9h0M844.9 219.8h0M826.1 217.4h0M816.5 209.6h0M798.1 209.1h0M790.8 209.1h0M799.3 197.6h0M798.2 181.2h0M798.6 168.4h0M796.1 158.2h0M799.3 141.1h0M1155.5 127.7h0M1162.1 126.8h0M1265.3 126.1h0M1285.0 126.5h0M1323.6 125.9h0M1084.7 134.3h0M1089.2 133.0h0M1136.0 134.3h0M1142.4 133.0h0M1148.1 134.5h0M1153.6 132.3h0M1161.1 131.6h0M1264.3 133.5h0M1285.6 133.9h0M1290.2 131.6h0M1297.0 132.1h0M1304.5 134.0h0M1311.3 133.0h0M1316.0 134.2h0M1322.7 133.6h0M1329.1 133.9h0M874.3 139.8h0M881.0 139.4h0M887.0 140.8h0M973.4 141.0h0M1129.5 138.1h0M1135.0 138.7h0M1142.9 138.9h0M1149.1 139.8h0M1154.2 138.3h0M1160.9 139.1h0M1167.4 139.5h0M1174.9 138.6h0M1179.5 139.7h0M1186.2 139.8h0M1199.9 141.0h0M1265.6 138.9h0M1272.1 139.8h0M1278.3 139.8h0M1283.4 139.4h0M1291.8 140.1h0M1297.0 138.9h0M1303.9 138.6h0M1310.9 140.2h0M1316.8 139.3h0M1324.0 139.0h0M1330.4 138.3h0M875.2 146.4h0M883.0 145.6h0M888.7 147.5h0M894.0 145.4h0M907.0 147.2h0M927.8 147.4h0M934.4 146.8h0M940.1 146.9h0M947.8 145.6h0M971.6 146.6h0M980.1 145.3h0M987.0 146.7h0M992.3 144.9h0M997.5 146.8h0M1006.4 146.5h0M1025.1 147.3h0M1030.8 146.4h0M1038.4 145.1h0M1070.6 144.9h0M1076.5 146.4h0M1084.5 145.3h0M1090.2 147.4h0M1097.5 145.3h0M1102.4 145.9h0M1115.8 147.4h0M1127.8 146.5h0M1135.3 146.8h0M1142.5 144.8h0M1147.0 144.6h0M1155.5 145.5h0M1160.2 147.1h0M1166.6 146.8h0M1173.2 146.2h0M1179.7 145.1h0M1186.9 144.9h0M1193.6 145.6h0M1258.3 146.4h0M1264.4 144.6h0M1271.5 145.7h0M1278.4 147.0h0M1283.8 145.2h0M1291.4 146.7h0M1297.6 146.4h0M1304.6 146.3h0M1309.4 147.3h0M1316.8 147.6h0M1324.2 145.1h0M862.8 153.3h0M870.0 153.9h0M874.2 153.4h0M881.1 152.6h0M888.1 153.6h0M894.4 153.8h0M901.4 151.1h0M909.0 152.3h0M915.2 152.9h0M919.8 152.9h0M927.1 153.4h0M932.8 151.2h0M939.2 153.0h0M947.6 151.9h0M953.1 152.9h0M960.8 152.2h0M966.2 153.2h0M972.6 152.1h0M977.9 153.8h0M986.6 153.6h0M993.8 153.9h0M998.8 152.9h0M1004.9 151.7h0M1011.9 151.4h0M1018.2 152.1h0M1024.7 151.6h0M1030.5 153.0h0M1036.6 151.7h0M1070.4 153.3h0M1076.7 153.5h0M1083.2 154.0h0M1090.8 153.0h0M1097.1 153.4h0M1101.8 152.1h0M1109.7 152.1h0M1117.1 153.4h0M1121.3 153.3h0M1127.4 152.1h0M1134.4 153.2h0M1141.7 153.6h0M1148.0 153.5h0M1153.9 152.1h0M1159.9 152.3h0M1167.0 152.7h0M1175.0 153.1h0M1180.5 151.7h0M1185.8 153.2h0M1195.3 151.3h0M1206.3 152.7h0M1257.8 152.4h0M1264.1 153.5h0M1272.7 153.6h0M1279.2 152.0h0M1284.6 153.8h0M1290.5 152.7h0M1297.6 152.6h0M1304.5 153.9h0M1309.5 151.1h0M1318.5 151.7h0M1324.7 151.8h0M1331.2 151.8h0M1335.6 152.6h0M809.3 159.6h0M816.0 158.1h0M830.7 158.5h0M842.9 157.6h0M848.1 158.7h0M854.7 159.0h0M863.4 159.5h0M869.2 158.1h0M875.8 159.5h0M881.2 157.7h0M888.7 159.9h0M893.8 157.6h0M901.2 160.2h0M907.0 158.0h0M913.8 158.9h0M921.2 158.7h0M928.5 159.8h0M933.4 159.7h0M940.9 160.3h0M947.4 158.4h0M953.8 158.4h0M961.2 157.7h0M965.3 158.5h0M972.5 158.6h0M978.7 157.6h0M985.8 159.8h0M993.0 160.4h0M999.4 159.8h0M1003.9 157.8h0M1012.1 158.3h0M1018.5 158.1h0M1024.8 157.6h0M1030.5 159.4h0M1037.5 160.0h0M1043.1 158.5h0M1051.4 160.5h0M1056.3 159.7h0M1071.8 158.9h0M1077.4 160.4h0M1084.7 160.1h0M1088.4 158.4h0M1095.5 159.9h0M1103.4 159.7h0M1109.5 160.0h0M1115.9 158.5h0M1121.4 158.0h0M1128.2 159.3h0M1134.6 160.5h0M1141.3 160.4h0M1149.0 160.2h0M1154.3 158.8h0M1160.1 158.6h0M1166.5 159.0h0M1174.4 160.0h0M1182.3 159.7h0M1186.9 158.7h0M1193.9 160.4h0M1200.9 160.0h0M1207.1 158.5h0M1212.6 160.2h0M1244.4 160.6h0M1260.2 159.1h0M1265.8 160.4h0M1273.0 159.5h0M1277.9 159.0h0M1284.7 160.1h0M1291.5 158.2h0M1297.2 159.3h0M1305.2 159.1h0M1311.7 158.7h0M1318.6 160.0h0M1324.0 157.9h0M1335.8 157.9h0M804.0 165.9h0M809.0 164.6h0M815.8 166.2h0M822.2 166.5h0M830.8 165.2h0M837.3 165.2h0M844.0 166.3h0M850.3 164.2h0M856.1 166.8h0M863.8 164.5h0M867.8 164.6h0M876.1 164.2h0M880.9 166.3h0M887.1 166.3h0M896.1 164.2h0M901.5 165.0h0M907.7 164.7h0M913.6 164.3h0M921.0 165.1h0M928.2 164.6h0M934.9 164.3h0M940.8 166.2h0M946.1 167.0h0M953.5 165.3h0M960.5 164.8h0M965.9 166.2h0M972.1 166.2h0M978.3 164.5h0M985.8 166.7h0M993.1 165.7h0M998.7 164.2h0M1006.4 165.9h0M1011.1 164.2h0M1019.8 165.9h0M1025.1 166.8h0M1030.0 166.0h0M1038.6 165.8h0M1043.7 164.9h0M1052.0 165.1h0M1057.7 165.6h0M1063.8 166.5h0M1069.6 165.8h0M1075.8 164.8h0M1083.2 165.9h0M1090.2 164.7h0M1096.2 165.0h0M1102.0 166.0h0M1110.4 164.4h0M1115.0 165.3h0M1122.4 165.3h0M1128.6 166.3h0M1134.3 164.4h0M1142.6 164.2h0M1148.9 164.4h0M1154.4 165.2h0M1160.9 164.2h0M1167.0 164.1h0M1175.7 164.3h0M1180.2 165.7h0M1188.8 164.8h0M1194.3 165.6h0M1199.2 166.3h0M1205.5 166.8h0M1212.1 165.3h0M1219.1 164.6h0M1245.0 165.2h0M1251.1 164.4h0M1258.3 164.1h0M1264.2 165.1h0M1271.0 164.5h0M1279.3 164.9h0M1283.6 166.9h0M1292.6 165.7h0M1298.5 164.7h0M1303.3 165.8h0M1311.7 166.5h0M1317.6 165.1h0M1322.9 164.8h0M1329.6 166.2h0M1337.7 164.5h0M809.4 172.0h0M816.8 171.5h0M824.2 171.3h0M830.1 171.7h0M837.8 173.3h0M842.5 172.0h0M848.5 172.0h0M855.6 172.2h0M862.9 172.6h0M868.2 170.8h0M876.4 172.5h0M882.5 171.9h0M887.5 173.0h0M896.2 171.0h0M901.8 171.9h0M907.2 170.7h0M912.9 170.6h0M922.1 170.6h0M927.3 173.0h0M934.1 173.3h0M939.5 173.0h0M947.5 171.6h0M954.1 172.2h0M959.5 173.1h0M967.3 172.3h0M972.8 173.2h0M980.7 171.6h0M985.4 171.9h0M993.7 171.8h0M999.7 171.3h0M1006.7 171.3h0M1011.5 172.4h0M1019.0 171.7h0M1024.2 172.7h0M1030.2 172.6h0M1038.0 171.3h0M1044.4 171.3h0M1050.5 171.4h0M1058.8 172.6h0M1062.9 173.2h0M1069.0 172.9h0M1076.3 171.3h0M1083.1 171.9h0M1089.0 171.5h0M1097.5 171.9h0M1103.9 172.9h0M1109.2 172.9h0M1116.0 172.8h0M1121.3 173.5h0M1128.8 172.2h0M1136.7 172.3h0M1142.6 173.1h0M1147.0 172.6h0M1155.2 171.8h0M1159.9 173.6h0M1166.8 170.8h0M1175.5 171.5h0M1180.5 171.8h0M1186.3 172.2h0M1193.7 170.9h0M1201.2 173.3h0M1206.2 172.6h0M1214.4 172.2h0M1220.5 171.4h0M1226.7 173.0h0M1234.3 172.7h0M1240.4 171.1h0M1246.0 172.2h0M1252.3 171.7h0M1258.8 172.3h0M1265.3 171.3h0M1273.0 172.8h0M1279.7 172.0h0M1285.8 172.7h0M1291.4 171.2h0M1299.0 173.0h0M1304.9 171.1h0M1309.9 172.3h0M1316.6 172.5h0M1323.0 171.1h0M804.7 177.2h0M809.1 179.8h0M815.7 178.7h0M822.6 178.7h0M830.9 179.6h0M835.8 178.2h0M843.2 177.4h0M847.9 179.9h0M855.5 179.1h0M862.5 177.3h0M868.5 178.5h0M875.7 179.7h0M881.5 177.7h0M888.4 178.8h0M896.2 177.8h0M902.5 179.9h0M907.5 179.1h0M912.9 177.4h0M919.4 179.9h0M928.2 177.6h0M932.7 178.3h0M940.0 178.1h0M945.6 179.4h0M952.4 178.5h0M959.5 179.7h0M967.1 179.2h0M972.3 177.7h0M978.0 179.0h0M987.0 178.7h0M992.4 178.7h0M999.7 179.7h0M1004.8 179.2h0M1011.1 180.0h0M1016.9 179.2h0M1023.6 177.2h0M1031.0 179.1h0M1036.9 178.9h0M1043.4 179.4h0M1051.8 180.0h0M1056.6 177.3h0M1062.6 178.9h0M1071.1 178.2h0M1077.8 178.4h0M1083.1 179.8h0M1091.2 177.2h0M1097.2 177.3h0M1102.6 177.4h0M1107.9 178.5h0M1116.3 178.2h0M1122.7 177.2h0M1130.0 177.9h0M1136.0 178.0h0M1143.1 177.5h0M1148.2 179.0h0M1155.9 178.0h0M1162.5 179.6h0M1166.4 178.0h0M1174.9 179.9h0M1179.9 179.0h0M1187.8 179.3h0M1194.0 178.7h0M1201.5 178.2h0M1208.2 178.7h0M1212.1 178.4h0M1221.0 177.4h0M1226.6 178.6h0M1231.9 179.1h0M1238.2 179.7h0M1245.5 179.8h0M1253.1 178.7h0M1257.4 177.3h0M1265.9 178.3h0M1270.8 177.6h0M1279.7 178.5h0M1284.4 177.1h0M1292.8 178.4h0M1297.6 179.1h0M1305.4 178.1h0M1310.8 179.1h0M1316.4 177.1h0M1324.7 179.2h0M804.2 184.7h0M809.1 184.4h0M816.9 185.3h0M824.0 183.8h0M830.0 183.7h0M836.1 185.0h0M841.4 184.2h0M847.9 185.4h0M856.1 184.6h0M863.2 185.1h0M869.6 183.9h0M874.8 184.4h0M882.5 183.9h0M888.9 185.0h0M895.8 184.7h0M900.2 184.3h0M906.8 184.9h0M915.2 184.0h0M919.7 186.4h0M926.3 183.8h0M932.8 186.2h0M938.9 183.9h0M947.5 185.8h0M952.8 186.0h0M959.7 183.8h0M966.9 186.4h0M971.6 186.1h0M978.5 185.4h0M986.7 184.4h0M991.9 186.6h0M999.4 183.8h0M1004.9 185.9h0M1011.8 183.9h0M1018.1 186.1h0M1023.6 184.2h0M1031.9 184.8h0M1039.2 185.4h0M1042.9 184.7h0M1050.6 184.3h0M1057.9 184.0h0M1063.6 184.4h0M1071.7 186.2h0M1076.6 185.3h0M1083.7 185.2h0M1090.1 185.7h0M1097.2 185.9h0M1101.5 185.0h0M1108.5 186.3h0M1114.4 184.0h0M1121.3 185.4h0M1130.3 185.6h0M1136.8 185.2h0M1142.7 186.1h0M1147.7 183.8h0M1154.2 185.6h0M1160.0 186.6h0M1167.5 184.6h0M1173.2 185.4h0M1180.9 185.4h0M1186.5 184.1h0M1192.9 185.9h0M1199.6 184.5h0M1207.0 186.5h0M1214.3 186.1h0M1218.8 185.6h0M1225.1 184.1h0M1233.1 186.5h0M1239.4 185.6h0M1246.9 185.8h0M1253.5 183.7h0M1259.8 183.6h0M1264.7 186.5h0M1271.2 184.6h0M1278.4 184.1h0M1284.3 184.2h0M1291.9 185.8h0M1298.8 185.7h0M1305.0 184.3h0M1310.9 186.5h0M1316.2 184.8h0M1323.6 186.3h0M1331.0 185.0h0M798.0 191.6h0M803.2 191.4h0M811.6 190.1h0M815.9 191.1h0M823.0 190.3h0M831.1 191.2h0M835.1 192.6h0M844.2 190.3h0M849.1 191.5h0M854.5 190.9h0M862.4 190.8h0M868.9 191.9h0M874.2 191.7h0M882.6 191.7h0M887.1 191.7h0M894.2 191.6h0M901.9 190.1h0M908.5 192.2h0M914.7 192.9h0M920.6 191.5h0M926.3 192.5h0M932.6 191.1h0M941.8 192.8h0M948.2 192.5h0M954.0 191.4h0M961.2 190.4h0M967.0 191.6h0M971.6 190.8h0M978.1 190.8h0M985.6 191.4h0M993.0 192.7h0M999.6 190.7h0M1005.9 191.2h0M1013.0 190.6h0M1017.5 190.4h0M1026.3 192.7h0M1031.2 191.4h0M1036.8 190.7h0M1044.8 191.5h0M1049.6 191.9h0M1058.7 190.2h0M1062.9 190.5h0M1070.3 190.7h0M1078.0 191.7h0M1083.5 191.7h0M1090.8 192.3h0M1094.9 191.8h0M1103.7 191.4h0M1110.0 192.7h0M1116.3 192.0h0M1122.3 192.3h0M1129.2 190.5h0M1136.0 192.1h0M1141.2 191.2h0M1149.6 191.5h0M1154.6 191.8h0M1160.1 192.8h0M1167.0 191.1h0M1173.4 191.7h0M1181.8 190.2h0M1186.5 192.9h0M1192.7 191.7h0M1201.8 192.7h0M1206.5 192.2h0M1212.3 192.7h0M1219.3 190.7h0M1227.1 191.4h0M1231.5 191.5h0M1238.2 191.9h0M1245.6 191.5h0M1252.7 191.0h0M1257.5 192.2h0M1265.9 190.1h0M1271.2 190.2h0M1278.4 191.3h0M1283.5 192.7h0M1292.7 193.0h0M1296.6 192.7h0M1303.5 193.0h0M1311.1 190.8h0M1316.3 192.6h0M1323.5 191.2h0M1330.1 190.5h0M798.6 196.9h0M804.5 198.4h0M817.2 199.5h0M824.6 197.1h0M830.0 197.0h0M835.0 199.1h0M842.4 196.7h0M850.6 198.6h0M856.4 198.5h0M862.2 196.9h0M870.1 197.3h0M874.3 197.6h0M882.8 199.4h0M889.2 196.7h0M894.2 198.1h0M902.2 199.5h0M908.6 197.5h0M912.9 196.8h0M921.3 197.6h0M927.6 198.0h0M948.3 198.3h0M954.5 196.9h0M973.3 198.9h0M977.9 198.1h0M993.0 199.1h0M999.6 198.8h0M1005.8 199.4h0M1012.4 197.3h0M1018.7 198.9h0M1025.8 196.7h0M1031.1 198.3h0M1038.1 197.5h0M1045.0 198.1h0M1049.9 197.7h0M1058.2 198.4h0M1062.6 196.8h0M1070.3 199.4h0M1078.3 197.4h0M1083.8 197.6h0M1090.5 199.2h0M1096.5 197.5h0M1102.5 199.3h0M1110.3 197.5h0M1117.2 196.8h0M1123.7 198.3h0M1128.5 196.7h0M1134.9 198.2h0M1141.6 198.1h0M1148.6 197.8h0M1153.8 199.1h0M1161.5 198.7h0M1169.3 198.8h0M1173.3 198.9h0M1179.4 198.6h0M1188.8 197.4h0M1195.1 197.8h0M1201.4 198.8h0M1206.5 198.5h0M1213.9 197.9h0M1219.1 199.3h0M1226.4 198.0h0M1232.7 198.8h0M1240.6 198.4h0M1247.0 197.2h0M1252.2 197.1h0M1259.1 197.4h0M1266.5 199.2h0M1271.5 196.9h0M1277.9 197.0h0M1285.1 198.1h0M1290.9 197.4h0M1297.7 196.9h0M1304.1 197.9h0M1310.8 196.9h0M1316.9 197.8h0M1323.8 198.8h0M1338.0 197.6h0M809.2 204.3h0M816.3 204.8h0M824.2 204.7h0M828.5 205.5h0M836.0 205.3h0M842.7 204.7h0M849.2 204.5h0M856.8 203.2h0M861.5 203.3h0M869.9 203.2h0M876.6 204.2h0M882.0 204.6h0M888.1 206.1h0M894.3 203.5h0M900.1 204.9h0M906.9 206.0h0M914.0 205.6h0M921.3 205.0h0M927.8 203.3h0M934.0 203.6h0M972.3 203.4h0M992.2 205.2h0M999.6 205.1h0M1006.0 206.0h0M1012.2 204.8h0M1017.8 205.1h0M1025.2 203.3h0M1031.8 205.7h0M1037.8 204.6h0M1044.6 204.5h0M1050.7 205.8h0M1058.3 204.4h0M1064.2 205.3h0M1069.7 203.9h0M1077.3 203.3h0M1083.8 205.8h0M1089.2 204.7h0M1097.4 204.1h0M1102.8 203.8h0M1110.1 203.1h0M1114.5 203.6h0M1123.4 204.7h0M1128.9 203.4h0M1134.2 203.7h0M1141.2 205.2h0M1148.9 203.7h0M1155.3 205.8h0M1160.3 204.7h0M1167.7 203.8h0M1174.5 205.9h0M1181.3 205.4h0M1187.5 204.4h0M1192.6 204.9h0M1201.1 203.6h0M1207.9 204.5h0M1213.2 203.7h0M1218.8 204.5h0M1225.5 205.2h0M1232.5 204.5h0M1240.0 205.5h0M1244.5 203.9h0M1251.1 205.3h0M1260.3 203.8h0M1264.1 205.6h0M1272.0 205.7h0M1276.9 205.0h0M1283.5 203.2h0M1291.9 203.3h0M1297.4 205.2h0M1305.4 204.3h0M1310.1 203.4h0M1316.1 204.4h0M1324.8 204.0h0M1329.1 203.7h0M1336.0 205.3h0M822.9 209.8h0M835.6 211.9h0M844.3 210.7h0M849.8 210.9h0M855.0 210.9h0M863.8 209.8h0M869.7 211.3h0M876.8 212.5h0M882.3 209.7h0M889.0 209.8h0M894.8 211.5h0M899.9 210.6h0M907.7 212.3h0M914.5 211.5h0M921.7 210.7h0M926.3 210.2h0M1000.3 209.6h0M1011.5 212.2h0M1017.2 209.6h0M1023.6 212.3h0M1031.8 212.0h0M1038.7 210.4h0M1044.9 211.3h0M1051.7 209.6h0M1057.2 211.0h0M1063.7 211.9h0M1070.1 210.7h0M1077.8 209.7h0M1084.6 212.5h0M1089.8 212.4h0M1097.4 211.9h0M1101.7 210.3h0M1109.8 212.1h0M1116.7 212.4h0M1121.7 210.0h0M1127.4 211.0h0M1135.6 211.2h0M1143.3 210.4h0M1147.9 211.5h0M1155.6 211.1h0M1161.2 209.7h0M1167.7 210.7h0M1174.7 210.8h0M1179.6 210.3h0M1187.6 210.9h0M1193.2 210.0h0M1201.7 210.1h0M1206.7 209.8h0M1213.6 210.1h0M1220.2 211.4h0M1226.0 210.6h0M1233.9 212.0h0M1240.7 212.0h0M1245.7 210.2h0M1252.0 211.7h0M1257.6 212.2h0M1263.9 210.7h0M1270.9 210.8h0M1279.3 210.4h0M1284.5 210.6h0M1291.6 209.8h0M1298.4 210.6h0M1304.4 209.6h0M1310.1 212.3h0M1317.0 212.1h0M1325.2 211.4h0M843.0 216.6h0M856.7 218.4h0M861.3 217.1h0M868.4 217.6h0M874.4 218.0h0M881.3 218.4h0M887.9 217.7h0M895.4 218.4h0M901.4 216.3h0M908.2 218.7h0M913.8 217.3h0M922.3 218.4h0M927.2 217.8h0M1011.6 218.6h0M1019.2 217.5h0M1025.3 218.0h0M1030.1 218.8h0M1036.7 218.5h0M1045.7 217.2h0M1052.2 218.7h0M1056.1 217.2h0M1065.3 218.4h0M1069.4 216.6h0M1078.0 218.6h0M1081.9 216.1h0M1089.1 217.3h0M1097.6 218.8h0M1101.4 217.8h0M1109.0 218.6h0M1116.7 216.9h0M1121.1 216.8h0M1129.9 218.2h0M1136.0 216.5h0M1143.0 218.8h0M1147.5 217.7h0M1154.7 217.9h0M1160.4 218.4h0M1168.0 216.1h0M1174.5 217.4h0M1180.1 216.3h0M1187.8 216.6h0M1193.9 217.4h0M1200.3 216.9h0M1206.2 218.3h0M1214.7 216.9h0M1221.2 216.4h0M1227.3 217.1h0M1234.0 216.6h0M1238.4 218.4h0M1245.8 218.1h0M1253.4 217.5h0M1260.1 219.1h0M1264.0 217.3h0M1270.8 217.4h0M1278.0 216.5h0M1284.6 218.8h0M1290.3 217.4h0M1298.0 218.4h0M1302.9 217.5h0M1311.1 217.5h0M1316.5 218.2h0M1324.3 216.8h0M849.7 224.1h0M856.0 223.5h0M862.4 223.3h0M869.8 224.6h0M876.1 222.8h0M882.9 224.1h0M887.2 224.8h0M894.9 222.9h0M901.4 223.1h0M906.8 224.5h0M914.7 223.1h0M920.7 223.3h0M926.4 224.3h0M1011.5 223.4h0M1019.2 224.7h0M1024.7 224.0h0M1030.9 222.6h0M1037.1 224.0h0M1043.7 223.9h0M1052.0 224.8h0M1056.8 225.4h0M1063.6 222.7h0M1068.9 223.5h0M1075.5 225.4h0M1084.2 223.4h0M1090.6 222.9h0M1097.6 224.1h0M1102.4 225.3h0M1108.5 225.2h0M1115.0 222.8h0M1122.0 225.0h0M1128.6 224.5h0M1134.6 224.0h0M1141.5 224.6h0M1148.3 225.4h0M1155.1 222.9h0M1162.4 224.6h0M1167.7 223.9h0M1175.3 224.1h0M1181.6 225.5h0M1188.3 223.4h0M1193.8 224.7h0M1201.6 225.6h0M1207.5 225.4h0M1212.7 224.6h0M1219.1 222.7h0M1227.5 224.1h0M1231.9 224.1h0M1238.8 223.2h0M1244.8 225.0h0M1252.3 225.2h0M1258.2 222.7h0M1266.2 223.1h0M1271.2 222.9h0M1279.0 222.6h0M1286.1 222.9h0M1291.0 225.2h0M1299.2 223.7h0M1305.6 224.8h0M1309.4 223.9h0M1317.2 224.6h0M1324.0 222.9h0M1331.8 223.0h0M880.5 230.4h0M888.6 230.0h0M895.5 230.9h0M901.6 231.3h0M908.1 229.2h0M913.6 229.9h0M922.0 231.8h0M928.8 229.6h0M1010.8 231.6h0M1018.5 231.0h0M1023.5 229.9h0M1030.8 231.2h0M1036.9 230.3h0M1045.1 231.7h0M1051.2 231.6h0M1058.0 231.1h0M1063.5 230.1h0M1070.9 229.1h0M1076.5 229.4h0M1082.6 230.6h0M1090.9 230.4h0M1095.7 230.5h0M1101.6 229.9h0M1108.4 230.3h0M1116.0 229.6h0M1121.2 231.2h0M1130.1 231.4h0M1136.6 230.2h0M1140.9 229.2h0M1148.7 230.4h0M1155.2 230.0h0M1162.2 230.2h0M1167.3 229.8h0M1173.4 230.8h0M1180.7 231.3h0M1186.8 231.5h0M1193.0 230.6h0M1200.3 229.6h0M1207.9 232.0h0M1213.1 229.3h0M1218.6 229.4h0M1227.1 229.6h0M1233.1 229.4h0M1239.1 229.1h0M1246.1 230.0h0M1252.3 231.5h0M1259.2 229.1h0M1266.4 230.2h0M1271.7 229.7h0M1279.4 230.1h0M1283.6 229.7h0M1289.9 230.7h0M1297.1 229.5h0M1305.6 229.4h0M1311.3 230.9h0M1318.6 230.8h0M1322.8 230.0h0M1331.8 229.5h0M1336.9 229.3h0M894.5 236.3h0M1012.4 236.0h0M1017.5 236.0h0M1025.5 236.5h0M1031.0 238.5h0M1038.7 237.1h0M1044.3 237.2h0M1051.1 236.1h0M1057.9 237.5h0M1065.1 235.9h0M1071.0 238.1h0M1077.0 237.1h0M1082.2 236.2h0M1089.0 235.9h0M1095.5 235.9h0M1102.1 238.0h0M1108.7 237.6h0M1116.6 237.7h0M1122.4 235.7h0M1129.2 235.8h0M1136.2 236.3h0M1142.1 236.7h0M1147.5 236.8h0M1155.3 237.5h0M1160.4 236.8h0M1166.9 237.8h0M1175.8 236.1h0M1182.2 238.4h0M1188.7 237.7h0M1192.4 237.4h0M1199.8 237.0h0M1207.4 236.0h0M1213.8 238.4h0M1219.3 236.7h0M1224.9 237.3h0M1231.6 236.4h0M1239.4 236.8h0M1247.3 237.5h0M1251.0 238.4h0M1259.1 237.7h0M1265.8 235.9h0M1272.5 237.4h0M1279.1 236.4h0M1284.0 237.1h0M1292.2 236.3h0M1297.1 235.7h0M1303.1 237.1h0M1309.9 236.2h0M1318.6 236.6h0M1324.3 238.0h0M1336.3 238.0h0M1010.5 242.5h0M1025.0 244.3h0M1030.4 243.7h0M1037.4 243.8h0M1044.2 243.4h0M1050.5 242.5h0M1058.2 244.6h0M1063.0 244.6h0M1071.8 244.0h0M1077.6 243.4h0M1082.9 243.4h0M1090.0 244.7h0M1097.7 242.2h0M1102.5 244.9h0M1108.3 244.0h0M1114.4 242.8h0M1121.0 243.0h0M1127.7 243.1h0M1135.7 245.0h0M1140.8 244.1h0M1147.6 244.6h0M1153.4 243.9h0M1160.1 244.7h0M1166.5 244.9h0M1174.8 242.9h0M1181.1 243.9h0M1188.1 244.7h0M1194.3 242.2h0M1199.4 243.2h0M1207.8 244.6h0M1214.5 244.8h0M1220.2 244.3h0M1224.9 242.9h0M1233.9 244.2h0M1240.3 242.5h0M1247.0 244.0h0M1253.1 243.6h0M1259.4 244.6h0M1264.6 243.3h0M1271.7 244.2h0M1279.6 245.0h0M1285.0 243.0h0M1291.7 243.4h0M1297.4 244.8h0M1305.1 243.6h0M1310.4 242.4h0M1317.5 244.2h0M1323.3 244.9h0M1328.9 244.3h0M1017.4 248.9h0M1025.9 250.3h0M1032.0 249.0h0M1039.3 250.8h0M1043.0 250.9h0M1052.3 248.6h0M1057.4 249.1h0M1062.8 250.0h0M1070.0 249.6h0M1076.5 249.3h0M1083.3 250.6h0M1090.7 249.4h0M1096.6 249.3h0M1103.1 249.4h0M1110.4 250.5h0M1116.2 249.1h0M1123.1 251.2h0M1128.5 250.4h0M1134.2 249.5h0M1140.6 250.4h0M1147.4 250.5h0M1156.3 249.6h0M1162.0 250.6h0M1168.0 251.4h0M1173.6 250.2h0M1179.8 251.3h0M1186.7 248.7h0M1192.5 249.9h0M1201.2 250.4h0M1205.5 249.6h0M1213.7 249.9h0M1219.7 249.0h0M1226.2 248.8h0M1232.4 250.6h0M1240.0 249.0h0M1245.6 249.3h0M1253.8 248.9h0M1257.4 249.9h0M1266.8 251.2h0M1273.1 249.4h0M1279.5 251.4h0M1284.8 248.6h0M1292.8 249.1h0M1298.6 250.6h0M1304.7 251.1h0M1310.8 250.8h0M1316.1 250.3h0M1324.0 248.9h0M1331.5 251.2h0M1336.3 251.3h0M1031.2 257.9h0M1037.0 257.2h0M1044.2 257.8h0M1050.7 255.8h0M1056.8 256.5h0M1064.2 255.5h0M1071.4 257.5h0M1076.1 255.4h0M1083.7 257.3h0M1090.0 255.6h0M1096.7 256.4h0M1101.7 256.0h0M1109.0 257.4h0M1116.0 257.1h0M1122.9 257.6h0M1129.2 257.6h0M1134.3 257.0h0M1141.5 256.2h0M1147.7 255.4h0M1156.1 257.1h0M1160.3 255.2h0M1169.1 255.2h0M1174.7 256.7h0M1181.9 255.2h0M1187.0 255.2h0M1194.6 256.2h0M1199.9 256.8h0M1207.7 255.9h0M1212.8 255.7h0M1220.1 256.3h0M1227.1 257.9h0M1234.3 255.1h0M1239.9 255.7h0M1246.5 256.0h0M1251.4 255.6h0M1259.6 256.0h0M1264.0 257.4h0M1270.6 256.7h0M1279.4 255.7h0M1286.0 256.5h0M1292.0 255.5h0M1297.3 256.1h0M1305.3 257.5h0M1310.4 255.5h0M1317.4 256.3h0M1324.6 255.1h0M1329.7 257.5h0M1336.8 257.7h0M1051.4 262.9h0M1056.2 263.5h0M1064.6 261.6h0M1069.7 263.5h0M1077.7 263.0h0M1082.6 261.7h0M1091.3 262.6h0M1097.2 264.1h0M1104.1 263.1h0M1109.6 262.6h0M1114.5 263.3h0M1121.7 262.6h0M1129.6 264.0h0M1134.8 262.7h0M1142.3 262.1h0M1149.1 262.9h0M1154.5 264.0h0M1162.2 262.7h0M1167.5 262.7h0M1174.3 263.4h0M1180.6 262.4h0M1188.6 264.1h0M1192.9 264.5h0M1199.0 262.7h0M1205.6 264.5h0M1213.1 261.9h0M1219.3 261.9h0M1226.6 262.9h0M1232.4 264.6h0M1239.2 263.7h0M1244.8 262.1h0M1252.1 263.4h0M1259.5 261.7h0M1265.4 264.0h0M1273.3 262.9h0M1278.2 261.7h0M1284.3 264.4h0M1290.9 264.4h0M1298.1 264.1h0M1304.4 263.3h0M1311.5 262.0h0M1316.2 264.5h0M1324.2 262.2h0M1330.5 263.5h0M1049.4 268.6h0M1057.9 268.5h0M1065.2 269.5h0M1069.8 270.4h0M1077.8 268.8h0M1084.5 270.2h0M1089.0 270.6h0M1097.8 268.3h0M1101.8 270.4h0M1109.5 268.3h0M1116.6 268.2h0M1122.8 270.4h0M1128.0 269.0h0M1134.3 270.1h0M1143.2 269.7h0M1149.7 269.9h0M1156.1 269.8h0M1162.0 268.6h0M1168.7 269.6h0M1173.3 268.3h0M1179.5 270.7h0M1186.8 269.7h0M1193.0 270.5h0M1199.2 270.7h0M1206.6 269.0h0M1212.9 269.9h0M1219.7 271.0h0M1226.8 268.8h0M1233.6 269.0h0M1239.0 269.5h0M1245.5 268.4h0M1252.7 270.2h0M1258.6 271.0h0M1264.3 268.9h0M1273.1 270.7h0M1278.8 268.9h0M1284.9 268.1h0M1290.3 268.7h0M1296.4 269.9h0M1303.8 269.2h0M1311.8 269.1h0M1315.9 271.0h0M1323.4 268.5h0M1077.1 276.0h0M1083.1 276.0h0M1090.3 274.9h0M1097.4 275.2h0M1103.8 274.9h0M1109.5 274.7h0M1115.9 274.9h0M1123.1 276.6h0M1129.5 276.1h0M1135.2 275.8h0M1149.0 277.2h0M1160.4 276.7h0M1168.3 277.2h0M1173.1 275.9h0M1182.3 277.4h0M1188.4 276.7h0M1193.5 277.3h0M1199.2 275.7h0M1206.2 275.8h0M1212.5 276.6h0M1220.0 275.7h0M1227.0 275.5h0M1233.0 276.0h0M1240.1 276.2h0M1247.1 276.2h0M1253.8 276.5h0M1260.0 276.5h0M1264.2 277.2h0M1271.9 277.5h0M1277.6 276.4h0M1283.6 275.6h0M1291.8 277.0h0M1298.0 275.8h0M1302.9 276.9h0M1311.1 275.4h0M1317.7 276.2h0M1323.7 276.1h0M1329.9 275.6h0M1069.3 283.4h0M1077.8 282.7h0M1083.3 283.7h0M1088.8 282.7h0M1095.3 283.3h0M1104.0 282.5h0M1110.0 283.6h0M1115.9 281.1h0M1122.9 282.5h0M1129.8 281.6h0M1142.2 281.9h0M1181.9 283.5h0M1186.0 282.0h0M1194.0 281.4h0M1199.0 282.9h0M1206.1 282.5h0M1214.8 283.6h0M1220.3 282.9h0M1225.6 283.1h0M1231.6 284.1h0M1240.6 283.5h0M1246.3 284.0h0M1253.2 282.1h0M1260.3 282.8h0M1265.0 282.2h0M1271.6 281.7h0M1279.5 283.0h0M1285.3 282.4h0M1291.3 282.6h0M1298.7 281.1h0M1304.8 283.8h0M1312.2 283.6h0M1318.6 282.2h0M1324.9 281.5h0M1077.9 290.0h0M1082.8 289.3h0M1103.2 290.3h0M1109.4 289.2h0M1115.4 288.6h0M1194.2 288.7h0M1199.6 288.1h0M1205.6 290.5h0M1213.5 287.8h0M1219.7 290.0h0M1234.0 287.9h0M1238.6 288.4h0M1246.8 288.0h0M1251.6 289.2h0M1258.7 288.1h0M1266.0 288.6h0M1270.4 288.6h0M1279.0 290.4h0M1283.7 289.8h0M1291.3 289.7h0M1297.8 289.2h0M1305.1 288.8h0M1309.9 289.6h0M1316.7 290.0h0M1324.4 288.4h0M1331.7 289.1h0M1207.3 296.0h0M1214.1 296.7h0M1221.3 295.3h0M1227.3 295.6h0M1240.0 295.5h0M1247.0 296.3h0M1253.5 294.4h0M1260.3 295.0h0M1265.2 295.2h0M1270.6 294.8h0M1277.2 295.8h0M1284.6 295.2h0M1291.7 295.3h0M1298.4 294.4h0M1305.3 294.6h0M1311.0 294.8h0M1318.4 296.5h0M1324.1 294.6h0M1330.3 296.7h0M1335.7 294.4h0M1244.7 300.8h0M1259.8 302.6h0M1264.0 302.8h0M1271.9 302.9h0M1277.5 301.4h0M1283.6 303.5h0M1292.3 301.2h0M1298.0 302.1h0M1304.3 302.1h0M1309.5 303.0h0M1316.9 301.2h0M1322.9 302.5h0M1245.4 307.8h0M1258.6 307.3h0M1265.5 307.8h0M1270.5 309.0h0M1284.6 307.9h0M1290.7 307.5h0M1296.7 308.7h0M1304.6 309.2h0M1310.5 310.0h0M1317.8 307.9h0M1322.4 309.3h0M1330.8 309.8h0M1285.1 314.3h0M1305.3 316.4h0M1311.0 315.1h0M1318.0 313.7h0M1322.4 313.8h0M1309.7 323.1h0M1317.2 320.9h0M1324.3 321.7h0" fill="none" stroke="#808180" stroke-width="19.6" stroke-linecap="round"/>
<path d="M796.0 94.3C796.4 94.7 796.2 94.7 798.1 96.4C800.0 98.1 803.8 102.3 807.5 104.7C811.1 107.1 815.4 109.3 819.9 110.9C824.4 112.6 828.9 114.0 834.4 114.7C840.0 115.4 846.9 115.5 853.1 115.1C859.3 114.6 865.9 112.7 871.8 112.0C877.7 111.2 882.9 110.5 888.4 110.5C893.9 110.6 899.1 111.6 905.0 112.4C910.9 113.2 917.8 114.6 923.7 115.1C929.6 115.6 934.4 115.8 940.3 115.5C946.2 115.3 952.7 114.4 959.0 113.6C965.2 112.9 972.1 111.5 977.6 110.9C983.2 110.4 987.0 110.3 992.2 110.5C997.4 110.8 1002.9 111.5 1008.8 112.4C1014.7 113.3 1021.6 115.0 1027.5 116.1C1033.3 117.3 1038.2 118.4 1044.1 119.2C1049.9 120.1 1055.8 120.4 1062.7 121.3C1069.7 122.3 1078.5 124.4 1085.8 125.1C1093.0 125.8 1099.6 125.7 1106.5 125.5C1113.4 125.3 1120.3 124.2 1127.3 123.8C1134.2 123.5 1141.8 123.2 1148.0 123.4C1154.2 123.6 1159.1 124.3 1164.6 125.1C1170.2 125.9 1175.7 126.9 1181.2 128.2C1186.8 129.5 1192.3 131.5 1197.8 132.7C1203.4 134.0 1208.9 135.0 1214.4 135.9C1220.0 136.7 1224.8 137.1 1231.0 137.9C1237.3 138.8 1244.9 140.0 1251.8 141.0C1258.7 142.1 1265.6 142.9 1272.6 144.2C1279.5 145.4 1286.4 146.9 1293.3 148.3C1300.2 149.7 1306.1 151.2 1314.1 152.5C1322.0 153.7 1336.6 155.4 1341.0 156.0" fill="none" stroke="#0000ff" stroke-width="4.9" stroke-dasharray="18.5 8.2" stroke-dashoffset="-4"/>
<path d="M796.0 256.4C796.4 256.7 796.2 257.0 798.1 258.5C800.0 259.9 803.8 263.1 807.5 265.1C811.1 267.1 815.4 268.9 819.9 270.3C824.4 271.7 828.9 272.9 834.4 273.4C840.0 273.9 846.9 273.8 853.1 273.4C859.3 273.0 865.9 271.4 871.8 270.7C877.7 270.0 882.9 269.2 888.4 269.2C893.9 269.2 899.1 269.9 905.0 270.7C910.9 271.5 917.8 273.2 923.7 273.8C929.6 274.4 934.4 274.7 940.3 274.4C946.2 274.2 952.7 273.2 959.0 272.4C965.2 271.6 972.1 270.2 977.6 269.7C983.2 269.1 987.0 269.0 992.2 269.2C997.4 269.5 1002.9 270.4 1008.8 271.3C1014.7 272.3 1021.6 273.8 1027.5 274.9C1033.3 275.9 1038.2 276.7 1044.1 277.6C1049.9 278.4 1055.8 279.1 1062.7 280.0C1069.7 281.0 1078.5 282.4 1085.8 283.0C1093.0 283.6 1099.6 283.7 1106.5 283.6C1113.4 283.5 1120.3 282.7 1127.3 282.4C1134.2 282.1 1141.8 281.9 1148.0 282.0C1154.2 282.1 1159.1 282.2 1164.6 283.0C1170.2 283.8 1175.7 285.4 1181.2 286.8C1186.8 288.1 1192.3 290.0 1197.8 291.3C1203.4 292.6 1208.9 293.6 1214.4 294.4C1220.0 295.3 1224.8 295.6 1231.0 296.5C1237.3 297.4 1244.9 298.6 1251.8 299.6C1258.7 300.7 1265.6 301.6 1272.6 302.7C1279.5 303.9 1286.4 305.3 1293.3 306.5C1300.2 307.7 1306.1 308.7 1314.1 310.0C1322.0 311.4 1336.6 313.8 1341.0 314.6" fill="none" stroke="#0000ff" stroke-width="4.9" stroke-dasharray="18.5 8.2" stroke-dashoffset="-4"/>
<path d="M796.0 175.7C796.4 176.0 796.2 176.3 798.1 177.8C800.0 179.3 803.8 182.4 807.5 184.6C811.1 186.8 815.4 189.2 819.9 190.9C824.4 192.5 828.9 193.9 834.4 194.6C840.0 195.3 846.9 195.5 853.1 195.0C859.3 194.6 865.9 192.7 871.8 191.9C877.7 191.1 882.9 190.4 888.4 190.4C893.9 190.4 899.1 191.1 905.0 191.9C910.9 192.7 917.8 194.4 923.7 195.0C929.6 195.6 934.4 195.7 940.3 195.4C946.2 195.1 952.7 194.1 959.0 193.3C965.2 192.6 972.1 191.3 977.6 190.9C983.2 190.4 987.0 190.3 992.2 190.4C997.4 190.6 1002.9 191.1 1008.8 191.9C1014.7 192.7 1021.6 194.4 1027.5 195.4C1033.3 196.5 1038.2 197.2 1044.1 198.1C1049.9 199.1 1055.8 200.3 1062.7 201.2C1069.7 202.2 1078.5 203.3 1085.8 203.7C1093.0 204.2 1099.6 204.1 1106.5 203.9C1113.4 203.8 1120.3 203.0 1127.3 202.7C1134.2 202.4 1141.8 202.1 1148.0 202.3C1154.2 202.5 1159.1 203.1 1164.6 203.9C1170.2 204.7 1175.7 205.7 1181.2 207.0C1186.8 208.4 1192.3 210.8 1197.8 212.2C1203.4 213.6 1208.9 214.5 1214.4 215.3C1220.0 216.2 1224.8 216.6 1231.0 217.4C1237.3 218.3 1244.9 219.3 1251.8 220.3C1258.7 221.3 1265.6 222.3 1272.6 223.4C1279.5 224.6 1286.4 225.9 1293.3 227.2C1300.2 228.4 1306.1 229.6 1314.1 230.9C1322.0 232.2 1336.6 234.2 1341.0 234.9" fill="none" stroke="#ff2a12" stroke-width="4.9" stroke-dasharray="18.5 8.2" stroke-dashoffset="-4"/>
<rect x="1145.4" y="21.7" width="4.80" height="355.3" fill="#318a1d"/>
<rect x="1162.3" y="21.7" width="4.80" height="355.3" fill="#eea52d"/>
<rect x="1179.3" y="21.7" width="4.80" height="355.3" fill="#318a1d"/>
</g>
<rect x="796.8" y="3.5" width="543.9" height="405.5" fill="none" stroke="#000" stroke-width="2.6"/>
<line x1="796.8" y1="409.0" x2="796.8" y2="421.2" stroke="#000" stroke-width="2.6"/>
<text transform="translate(796.8 457.8) scale(0.968 1)" font-size="34.5" text-anchor="middle">1700</text>
<line x1="966.8" y1="409.0" x2="966.8" y2="421.2" stroke="#000" stroke-width="2.6"/>
<text transform="translate(966.8 457.8) scale(0.968 1)" font-size="34.5" text-anchor="middle">1800</text>
<line x1="1136.7" y1="409.0" x2="1136.7" y2="421.2" stroke="#000" stroke-width="2.6"/>
<text transform="translate(1136.7 457.8) scale(0.968 1)" font-size="34.5" text-anchor="middle">1900</text>
<line x1="1306.7" y1="409.0" x2="1306.7" y2="421.2" stroke="#000" stroke-width="2.6"/>
<text transform="translate(1306.7 457.8) scale(0.968 1)" font-size="34.5" text-anchor="middle">2000</text>
<line x1="796.8" y1="42.9" x2="784.5999999999999" y2="42.9" stroke="#000" stroke-width="2.6"/>
<text transform="translate(772.4 55.6) scale(0.975 1)" font-size="34.5" text-anchor="end">4.0</text>
<line x1="796.8" y1="126.4" x2="784.5999999999999" y2="126.4" stroke="#000" stroke-width="2.6"/>
<text transform="translate(772.4 139.1) scale(0.975 1)" font-size="34.5" text-anchor="end">2.0</text>
<line x1="796.8" y1="209.9" x2="784.5999999999999" y2="209.9" stroke="#000" stroke-width="2.6"/>
<text transform="translate(772.4 222.6) scale(0.975 1)" font-size="34.5" text-anchor="end">0.0</text>
<line x1="796.8" y1="293.5" x2="784.5999999999999" y2="293.5" stroke="#000" stroke-width="2.6"/>
<text transform="translate(772.4 306.2) scale(0.975 1)" font-size="34.5" text-anchor="end">-2.0</text>
<line x1="796.8" y1="377.0" x2="784.5999999999999" y2="377.0" stroke="#000" stroke-width="2.6"/>
<text transform="translate(772.4 389.7) scale(0.975 1)" font-size="34.5" text-anchor="end">-4.0</text>
<text x="802.2" y="37.2" font-size="39.3">b</text>
</g>
<g id="panel-c">
<clipPath id="clipc"><rect x="143.0" y="490.6" width="544.3" height="406.0"/></clipPath>
<g clip-path="url(#clipc)">
<path d="M149.3 740.0h0M159.7 748.7h0M176.9 715.1h0M184.6 729.0h0M189.8 727.9h0M192.9 741.4h0M200.2 736.2h0M213.7 743.5h0M229.2 719.6h0M232.4 723.8h0M234.4 743.5h0M247.9 738.3h0M260.4 723.8h0M262.5 744.5h0M281.8 722.7h0M283.2 737.3h0M281.8 757.6h0M299.8 714.4h0M297.7 725.9h0M312.3 717.6h0M316.4 732.1h0M336.1 706.1h0M339.3 713.4h0M332.0 736.2h0M347.6 744.5h0M355.9 752.8h0M368.3 763.2h0M366.2 752.8h0M360.0 698.9h0M361.0 666.7h0M376.6 664.6h0M391.1 668.8h0M403.6 676.0h0M379.7 698.9h0M374.5 709.2h0M397.4 690.6h0M397.4 749.7h0M409.8 754.9h0M420.0 765.3h0M414.0 633.5h0M420.0 669.8h0M415.2 633.0h0M532.5 563.5h0M539.7 573.9h0M596.8 567.6h0M613.4 578.0h0M634.2 578.0h0M648.7 580.1h0M665.3 508.5h0M668.4 519.9h0M686.0 513.7h0M504.4 802.1h0M635.2 812.5h0M646.6 810.4h0M646.6 836.3h0M676.7 800.0h0M554.3 842.6h0M333.2 572.8h0M405.8 677.6h0M420.4 671.4h0M430.8 668.3h0M442.7 673.7h0M447.4 667.3h0M455.6 672.8h0M459.8 671.4h0M473.2 663.9h0M472.3 649.6h0M480.6 646.5h0M495.9 649.8h0M501.3 640.3h0M507.6 634.1h0M520.7 626.2h0M519.0 617.5h0M519.0 626.8h0M523.1 632.0h0M518.7 641.5h0M526.2 644.4h0M538.7 636.1h0M551.3 628.2h0M547.0 620.6h0M561.5 619.5h0M569.8 615.4h0M582.1 608.4h0M583.3 604.0h0M587.5 613.3h0M596.5 617.9h0M605.1 614.3h0M617.6 609.2h0M627.9 617.5h0M638.3 611.2h0M648.0 602.0h0M648.7 594.6h0M658.6 590.7h0M659.1 586.3h0M664.2 578.0h0M659.1 561.4h0M669.0 569.5h0M673.6 563.5h0M688.1 557.2h0M686.0 546.9h0M690.0 546.9h0M684.5 557.7h0M683.8 572.3h0M682.7 590.2h0M686.2 603.5h0M682.3 615.1h0M686.4 626.8h0M685.6 639.3h0M684.4 651.9h0M684.7 667.1h0M684.5 681.3h0M683.7 696.6h0M681.7 711.4h0M683.5 724.8h0M683.2 736.8h0M690.0 752.3h0M684.0 752.3h0M670.9 759.7h0M671.5 770.9h0M665.3 783.4h0M659.1 787.6h0M647.4 783.4h0M638.3 787.6h0M627.5 787.6h0M625.9 793.8h0M615.5 787.6h0M604.4 789.5h0M602.0 795.9h0M590.6 795.9h0M583.3 785.5h0M576.0 783.4h0M565.7 781.3h0M551.4 785.7h0M554.3 793.8h0M542.8 785.5h0M529.7 787.3h0M529.3 795.9h0M524.3 785.0h0M513.8 787.6h0M509.4 779.0h0M499.2 773.0h0M488.8 766.5h0M480.6 770.9h0M472.3 773.0h0M460.0 767.4h0M455.7 775.1h0M444.8 769.8h0M437.0 770.9h0M427.1 761.7h0M420.4 764.7h0M418.3 755.9h0M410.0 750.2h0M405.8 748.1h0M408.7 735.2h0M410.3 719.0h0M409.2 707.5h0M413.4 690.6h0M672.1 574.1h0M678.7 574.0h0M667.3 579.4h0M672.3 579.1h0M680.1 579.2h0M684.9 580.2h0M673.4 585.0h0M679.9 584.7h0M671.2 591.4h0M679.5 592.9h0M667.0 598.8h0M673.2 599.3h0M660.0 606.1h0M666.2 604.4h0M671.8 606.7h0M680.1 604.7h0M581.4 612.3h0M646.6 613.3h0M659.3 610.4h0M667.1 612.5h0M672.5 611.4h0M614.4 618.3h0M639.1 618.5h0M651.9 619.6h0M659.7 616.9h0M664.5 619.8h0M671.5 618.4h0M574.1 625.0h0M580.0 626.4h0M586.5 623.6h0M594.6 624.0h0M599.8 624.0h0M607.1 625.3h0M615.0 624.9h0M625.7 625.2h0M634.1 626.2h0M640.5 624.0h0M645.6 624.7h0M653.4 625.2h0M659.9 624.9h0M665.4 625.1h0M673.7 624.4h0M678.8 625.7h0M549.8 630.1h0M555.1 632.8h0M562.4 630.5h0M568.7 632.7h0M575.9 631.4h0M582.3 632.0h0M589.0 632.0h0M595.3 630.3h0M600.2 631.2h0M608.2 630.8h0M614.8 630.1h0M619.1 630.8h0M631.9 632.6h0M639.8 631.4h0M646.0 631.5h0M652.4 632.1h0M659.6 631.8h0M664.6 631.0h0M673.0 632.6h0M679.0 630.5h0M684.5 630.5h0M555.1 638.6h0M560.7 637.3h0M568.7 638.3h0M573.6 639.2h0M580.3 638.1h0M588.6 638.4h0M594.8 638.9h0M600.1 638.7h0M608.0 637.2h0M615.0 636.7h0M619.6 636.9h0M625.5 637.9h0M632.2 638.8h0M639.0 637.3h0M646.7 636.9h0M653.8 637.9h0M660.6 638.9h0M665.0 637.8h0M672.9 638.2h0M677.7 638.3h0M510.2 645.4h0M517.1 645.1h0M550.2 645.2h0M554.2 645.7h0M563.1 645.6h0M569.8 645.7h0M574.2 643.2h0M581.2 643.9h0M586.5 645.0h0M593.0 643.6h0M599.8 644.7h0M605.9 644.3h0M614.9 645.4h0M620.1 644.8h0M628.3 643.8h0M634.6 644.9h0M639.9 644.2h0M646.3 645.6h0M653.0 644.0h0M660.7 645.2h0M667.1 644.4h0M673.5 644.2h0M678.0 645.1h0M482.4 652.2h0M495.6 649.6h0M501.9 650.5h0M510.7 650.4h0M515.4 652.1h0M523.8 651.0h0M529.6 650.6h0M536.4 649.7h0M543.8 649.5h0M547.7 650.5h0M554.4 649.8h0M561.2 651.7h0M569.1 651.4h0M573.7 651.1h0M581.2 652.2h0M587.9 651.1h0M595.4 650.9h0M601.8 649.8h0M607.4 651.1h0M612.5 649.9h0M619.0 651.0h0M625.7 651.2h0M634.1 652.2h0M641.2 651.7h0M646.9 650.8h0M652.2 651.3h0M658.5 650.4h0M666.9 649.4h0M671.1 650.1h0M680.0 651.9h0M489.6 658.6h0M496.9 657.8h0M502.0 658.4h0M508.6 657.6h0M516.5 657.9h0M521.8 656.4h0M530.1 657.5h0M534.9 657.6h0M543.4 656.9h0M548.9 656.7h0M555.0 658.2h0M562.3 656.5h0M569.4 658.5h0M575.2 657.2h0M581.2 655.9h0M587.6 658.4h0M595.0 657.9h0M602.2 658.4h0M607.1 656.2h0M614.2 656.8h0M619.9 658.0h0M625.6 658.1h0M634.8 657.0h0M640.7 658.8h0M647.1 656.8h0M653.2 658.7h0M660.7 658.7h0M667.3 655.9h0M673.7 657.7h0M678.9 657.1h0M471.3 664.2h0M478.6 664.9h0M483.1 665.2h0M489.1 662.6h0M496.5 664.3h0M502.4 664.9h0M509.8 662.8h0M515.1 663.2h0M522.0 662.6h0M529.5 664.6h0M536.8 664.7h0M542.5 664.5h0M548.8 663.0h0M554.9 664.7h0M560.9 662.7h0M569.6 663.3h0M574.9 662.6h0M582.1 663.0h0M586.9 663.0h0M595.0 665.1h0M601.3 664.1h0M608.3 664.5h0M613.0 663.2h0M619.9 664.8h0M625.8 663.6h0M633.0 664.1h0M639.2 664.7h0M646.4 663.2h0M653.1 664.3h0M659.3 664.0h0M665.6 664.9h0M673.8 663.8h0M679.0 664.7h0M470.9 671.4h0M483.2 669.3h0M491.6 671.5h0M495.4 671.7h0M503.3 670.6h0M511.1 671.8h0M516.0 669.8h0M522.7 670.1h0M529.4 669.0h0M535.2 669.0h0M541.9 669.2h0M548.9 669.1h0M555.2 670.7h0M562.9 669.6h0M569.5 669.7h0M574.0 670.9h0M582.1 669.2h0M586.6 670.2h0M593.7 669.1h0M601.1 670.8h0M606.6 671.0h0M614.9 670.1h0M621.2 671.4h0M625.6 671.3h0M633.9 671.8h0M639.7 670.2h0M647.3 669.2h0M652.6 671.7h0M660.5 670.8h0M664.9 669.5h0M673.0 671.1h0M677.7 669.7h0M425.1 678.1h0M432.9 678.3h0M437.9 677.2h0M443.6 677.9h0M464.8 677.6h0M471.4 677.2h0M477.2 676.9h0M483.8 677.5h0M491.0 678.2h0M496.0 676.3h0M504.5 675.7h0M508.9 678.3h0M517.8 677.3h0M522.1 677.5h0M530.7 676.7h0M537.2 675.5h0M541.3 678.1h0M548.9 676.3h0M556.4 676.2h0M562.8 677.2h0M567.8 676.2h0M575.7 676.9h0M581.5 677.4h0M586.4 677.9h0M594.5 676.6h0M601.2 675.8h0M606.2 677.5h0M615.0 677.7h0M620.5 677.1h0M626.0 677.0h0M632.6 676.5h0M639.2 676.0h0M645.2 677.7h0M653.4 676.4h0M658.5 677.8h0M666.4 677.0h0M671.6 676.0h0M679.2 678.4h0M413.1 682.2h0M417.5 682.9h0M432.1 683.8h0M438.6 682.2h0M445.2 683.6h0M450.8 683.1h0M469.8 683.3h0M475.9 684.1h0M483.5 684.7h0M490.1 683.5h0M498.1 683.6h0M502.0 684.7h0M510.7 682.2h0M515.2 681.9h0M524.1 684.5h0M528.5 683.6h0M535.5 683.6h0M542.3 683.5h0M549.7 683.2h0M554.7 682.8h0M561.6 683.8h0M569.3 682.5h0M573.4 682.2h0M582.1 682.4h0M588.4 681.9h0M594.4 684.5h0M601.3 683.4h0M608.1 683.5h0M613.0 684.5h0M621.2 683.3h0M628.3 683.6h0M634.4 682.5h0M641.1 684.7h0M647.5 682.3h0M653.0 683.5h0M658.3 684.8h0M666.9 682.7h0M673.7 682.0h0M678.2 683.3h0M417.9 690.2h0M425.0 690.5h0M433.0 688.5h0M436.9 689.0h0M444.3 690.7h0M451.2 688.4h0M458.5 689.3h0M464.1 689.6h0M470.0 691.2h0M478.1 689.9h0M483.5 690.3h0M490.6 690.4h0M497.1 690.6h0M503.9 691.2h0M509.8 689.0h0M517.5 691.0h0M522.4 690.2h0M530.7 689.6h0M536.5 689.5h0M542.7 688.5h0M548.4 688.7h0M554.7 688.4h0M562.8 689.3h0M569.7 691.1h0M573.5 688.4h0M581.8 688.8h0M588.8 688.9h0M595.3 691.1h0M601.0 690.6h0M606.0 690.6h0M615.0 690.3h0M620.3 688.7h0M627.7 689.0h0M633.7 691.0h0M639.5 689.5h0M647.7 689.4h0M653.5 690.1h0M660.8 691.3h0M665.3 688.6h0M672.9 688.9h0M679.4 689.7h0M418.0 697.2h0M425.2 697.5h0M433.3 696.2h0M439.3 696.3h0M444.0 695.8h0M451.8 695.8h0M458.9 697.0h0M463.6 695.6h0M469.8 697.2h0M477.4 695.9h0M483.2 696.5h0M489.3 694.9h0M496.5 696.6h0M502.4 696.2h0M509.8 696.6h0M517.4 697.0h0M521.4 696.6h0M529.8 695.1h0M535.6 695.3h0M542.3 696.1h0M547.6 696.2h0M555.4 697.5h0M562.2 696.1h0M569.3 695.4h0M574.6 697.3h0M581.4 696.6h0M587.5 695.7h0M595.4 696.2h0M599.5 695.5h0M607.9 697.8h0M612.9 695.9h0M621.2 695.3h0M627.1 695.2h0M632.7 694.9h0M639.6 695.3h0M646.0 697.4h0M653.5 695.3h0M660.0 695.1h0M665.7 695.4h0M673.8 695.2h0M679.0 696.0h0M419.7 702.1h0M424.8 702.5h0M430.5 702.8h0M437.9 702.5h0M444.9 703.2h0M452.8 703.1h0M456.5 703.0h0M464.6 702.4h0M471.5 702.9h0M476.2 704.0h0M483.5 703.0h0M489.9 703.3h0M496.7 703.3h0M502.8 702.4h0M509.6 703.0h0M515.3 702.3h0M523.8 703.8h0M530.6 702.1h0M537.0 703.4h0M542.4 701.8h0M550.3 703.4h0M556.6 701.6h0M561.1 701.9h0M569.7 703.1h0M575.2 703.0h0M581.1 701.7h0M586.7 702.1h0M593.6 702.0h0M601.3 702.6h0M605.9 703.4h0M613.7 701.9h0M620.7 701.4h0M627.1 704.2h0M631.9 703.5h0M638.4 702.0h0M646.2 702.3h0M651.6 703.4h0M658.7 704.3h0M664.7 702.9h0M671.9 704.3h0M677.7 701.4h0M684.3 704.3h0M413.5 709.3h0M418.6 708.9h0M425.8 709.4h0M431.4 709.3h0M439.7 709.8h0M446.1 710.2h0M451.4 709.1h0M457.9 708.4h0M463.8 708.9h0M470.6 708.6h0M478.1 709.9h0M484.2 708.7h0M491.2 709.9h0M496.3 710.2h0M504.1 710.2h0M510.3 708.2h0M515.4 709.7h0M521.5 709.1h0M528.3 710.1h0M536.1 708.9h0M541.5 708.0h0M548.0 708.3h0M556.1 710.9h0M562.3 709.4h0M567.8 708.0h0M574.0 709.0h0M582.0 709.1h0M587.8 709.0h0M595.0 708.3h0M601.1 709.3h0M607.0 709.4h0M613.0 709.8h0M621.8 710.0h0M628.2 710.4h0M632.0 710.8h0M639.5 709.1h0M646.2 709.5h0M651.6 709.3h0M659.5 709.1h0M664.8 709.9h0M672.4 709.4h0M420.1 717.1h0M426.6 717.1h0M430.9 715.3h0M438.1 716.4h0M445.6 716.9h0M450.7 717.2h0M457.6 715.8h0M464.8 715.7h0M472.3 716.7h0M478.8 715.4h0M484.7 716.0h0M490.7 716.5h0M497.3 716.7h0M502.9 715.7h0M508.5 714.8h0M516.1 717.0h0M524.0 715.9h0M530.5 715.1h0M535.7 716.6h0M542.0 715.0h0M547.4 716.8h0M554.3 714.7h0M560.4 715.4h0M569.5 714.6h0M576.3 714.8h0M582.0 716.7h0M586.8 716.3h0M593.1 716.3h0M602.3 716.0h0M606.5 716.1h0M614.0 717.1h0M619.9 716.9h0M625.5 716.0h0M634.8 716.8h0M638.9 717.1h0M647.1 714.6h0M653.1 714.5h0M659.9 717.3h0M666.7 716.7h0M672.0 717.3h0M677.4 714.5h0M412.2 723.3h0M417.8 722.2h0M425.2 723.4h0M431.4 721.2h0M437.2 723.8h0M444.7 721.5h0M452.2 721.3h0M459.3 722.2h0M464.2 723.0h0M470.6 722.2h0M478.7 723.5h0M485.2 721.2h0M490.7 721.2h0M497.9 723.2h0M503.6 722.6h0M508.4 723.1h0M516.0 722.0h0M523.1 721.2h0M530.3 722.1h0M537.0 723.0h0M542.9 723.0h0M548.4 722.7h0M554.5 722.8h0M560.4 723.8h0M567.3 723.6h0M575.4 721.4h0M582.8 722.7h0M588.0 721.8h0M594.7 721.4h0M601.7 723.1h0M607.4 722.2h0M612.4 723.7h0M619.2 723.4h0M628.1 722.4h0M632.8 723.6h0M639.5 722.7h0M646.3 723.1h0M651.5 723.9h0M660.3 723.7h0M665.4 723.4h0M672.7 723.2h0M679.5 722.5h0M684.1 721.3h0M411.4 728.1h0M418.4 729.4h0M424.7 730.0h0M432.4 727.6h0M437.7 728.7h0M443.5 728.7h0M451.2 730.3h0M459.2 729.3h0M465.3 729.2h0M469.8 729.2h0M477.8 727.7h0M484.5 729.8h0M491.8 727.8h0M496.1 727.5h0M504.2 727.9h0M510.4 729.7h0M516.4 729.6h0M522.0 728.7h0M530.2 728.9h0M534.6 728.6h0M542.3 728.5h0M549.8 729.8h0M554.2 729.4h0M562.1 729.8h0M568.3 729.1h0M575.7 728.2h0M580.5 729.1h0M589.2 728.7h0M593.4 729.9h0M601.5 728.4h0M607.7 728.2h0M612.6 729.4h0M621.1 729.9h0M625.7 729.8h0M631.9 728.5h0M639.7 728.6h0M645.0 729.4h0M653.1 729.5h0M660.7 729.7h0M665.8 729.6h0M672.0 729.8h0M678.6 728.2h0M419.2 735.0h0M426.0 735.1h0M430.9 735.3h0M439.5 736.6h0M444.5 736.6h0M452.5 734.4h0M457.0 735.4h0M465.5 734.6h0M469.8 735.8h0M477.5 734.8h0M483.2 736.3h0M490.1 736.8h0M497.3 735.6h0M502.9 736.6h0M509.7 735.1h0M514.9 735.3h0M522.3 734.6h0M529.5 736.5h0M535.8 736.7h0M541.8 735.8h0M548.6 735.9h0M556.2 735.3h0M563.0 735.0h0M568.0 736.0h0M574.5 736.4h0M580.1 734.7h0M588.2 735.1h0M594.5 734.8h0M602.0 734.5h0M606.0 735.9h0M612.7 735.2h0M619.4 736.0h0M626.1 736.2h0M634.1 734.6h0M640.3 736.4h0M645.1 735.3h0M652.7 736.4h0M658.3 734.7h0M665.0 734.4h0M673.4 736.3h0M418.3 741.4h0M424.3 742.4h0M431.3 740.7h0M439.6 740.9h0M444.0 741.7h0M450.8 741.5h0M457.7 741.8h0M464.8 740.7h0M472.0 740.8h0M476.5 741.7h0M483.9 740.9h0M489.2 743.1h0M496.3 741.1h0M502.0 742.2h0M509.9 742.2h0M517.7 741.0h0M523.2 740.9h0M530.4 741.6h0M535.8 740.5h0M542.0 741.3h0M550.3 740.6h0M555.4 741.7h0M562.5 741.7h0M568.2 742.4h0M575.9 742.3h0M580.0 742.4h0M586.4 740.5h0M593.8 742.2h0M600.6 741.4h0M607.9 742.4h0M613.8 741.6h0M621.5 743.0h0M627.8 743.0h0M632.6 743.2h0M640.8 740.9h0M647.5 741.6h0M651.9 742.7h0M660.6 741.1h0M666.6 740.7h0M672.6 741.3h0M679.6 741.2h0M684.5 743.2h0M418.8 747.5h0M426.6 747.2h0M430.4 748.0h0M439.8 749.6h0M445.2 748.8h0M452.0 747.4h0M456.7 748.7h0M463.4 748.2h0M471.9 749.8h0M476.3 747.2h0M482.9 749.2h0M489.6 748.6h0M497.4 747.7h0M503.8 749.5h0M511.1 747.6h0M517.0 748.2h0M521.9 748.9h0M528.7 748.7h0M535.2 747.7h0M543.2 748.3h0M547.6 747.6h0M555.6 746.9h0M562.1 749.2h0M567.1 749.7h0M574.7 749.0h0M582.0 748.4h0M588.1 749.5h0M593.8 749.0h0M599.5 747.5h0M607.9 749.4h0M614.4 748.8h0M621.2 748.5h0M626.9 748.1h0M634.2 748.0h0M639.7 748.1h0M646.1 749.5h0M652.4 747.6h0M658.8 747.9h0M666.8 747.5h0M671.8 747.9h0M431.1 755.6h0M439.2 756.3h0M445.3 754.7h0M451.2 754.6h0M458.8 753.5h0M464.1 754.0h0M469.7 754.0h0M476.3 756.1h0M484.3 755.9h0M489.8 753.6h0M498.3 755.5h0M504.3 755.5h0M508.8 756.3h0M515.5 755.8h0M522.5 754.7h0M528.9 753.7h0M534.8 756.3h0M541.5 755.8h0M549.2 754.3h0M553.9 756.0h0M562.3 754.6h0M568.4 755.3h0M576.0 755.3h0M581.7 754.9h0M587.1 755.8h0M593.2 753.9h0M601.7 754.8h0M606.0 753.5h0M614.2 755.7h0M621.8 755.4h0M626.7 755.7h0M633.7 754.9h0M639.3 753.7h0M646.1 755.9h0M651.4 755.9h0M659.9 754.1h0M666.1 755.9h0M670.9 753.9h0M432.1 762.7h0M450.0 761.0h0M465.3 761.5h0M471.0 760.8h0M476.6 762.6h0M490.0 761.7h0M504.3 762.6h0M510.7 760.1h0M516.2 762.1h0M521.6 762.8h0M529.3 762.5h0M534.5 760.2h0M542.1 762.1h0M550.0 761.0h0M554.4 762.6h0M562.3 760.6h0M568.4 761.3h0M576.1 761.4h0M579.9 762.6h0M587.2 760.3h0M594.0 761.4h0M602.0 761.7h0M607.3 760.8h0M613.3 762.9h0M619.2 762.0h0M626.9 760.7h0M634.4 760.5h0M640.2 761.8h0M646.8 759.9h0M652.6 760.4h0M659.7 762.7h0M666.3 760.1h0M464.3 767.4h0M517.7 768.2h0M522.3 769.2h0M529.8 767.0h0M535.0 768.1h0M543.2 768.3h0M548.8 769.1h0M555.7 767.1h0M562.9 768.8h0M580.7 768.1h0M587.7 767.7h0M593.5 767.2h0M599.7 767.3h0M607.3 768.2h0M613.6 766.8h0M619.9 767.1h0M627.6 767.9h0M632.3 768.8h0M640.2 769.4h0M645.5 767.3h0M652.0 768.6h0M660.7 768.9h0M517.0 773.3h0M523.6 775.6h0M529.9 773.7h0M536.9 775.0h0M542.8 775.4h0M547.8 773.8h0M554.6 773.4h0M560.5 773.6h0M573.6 774.4h0M588.5 773.4h0M593.0 773.3h0M600.1 775.8h0M607.2 775.4h0M621.3 773.9h0M627.4 773.5h0M634.7 773.8h0M638.7 774.0h0M647.4 773.1h0M651.8 774.7h0M658.4 773.9h0M516.2 782.4h0M523.1 782.0h0M528.6 781.9h0M556.3 780.0h0M581.0 779.9h0M588.7 782.3h0M595.8 781.1h0M599.9 781.4h0M607.5 780.5h0M621.7 780.6h0M627.8 779.5h0M634.0 782.2h0M652.3 781.0h0M593.3 786.3h0M339.3 713.4h0M354.8 712.1h0M360.0 698.9h0M371.2 703.9h0M379.7 698.9h0M391.5 704.8h0M399.4 699.9h0M412.3 692.3h0M409.8 682.3h0M420.0 676.0h0M413.4 689.6h0M416.2 702.3h0M416.0 717.8h0M412.7 732.3h0M416.8 745.4h0M411.5 757.2h0M420.0 765.3h0M417.8 753.8h0M409.8 757.0h0M400.5 752.8h0M406.8 742.3h0M399.4 738.3h0M389.1 727.9h0M380.1 723.0h0M374.5 727.9h0M368.7 735.3h0M363.1 747.0h0M365.9 758.4h0M368.3 763.2h0M366.5 751.8h0M355.9 752.8h0M347.6 744.5h0M340.4 732.9h0M332.0 736.2h0M324.1 730.5h0M316.4 732.1h0M326.8 723.8h0M340.2 722.9h0M414.0 694.3h0M360.8 708.2h0M375.5 708.9h0M382.9 709.2h0M387.9 707.4h0M401.1 710.0h0M408.5 708.7h0M413.9 707.6h0M362.6 714.1h0M369.0 713.9h0M374.9 714.7h0M382.3 716.3h0M387.2 715.6h0M401.8 716.1h0M412.4 715.7h0M349.2 721.9h0M356.7 721.1h0M361.9 720.6h0M374.3 721.5h0M406.1 720.4h0M341.3 728.1h0M349.4 727.3h0M355.0 729.1h0M360.6 727.7h0M343.9 734.3h0M348.9 733.7h0M356.8 734.3h0M361.0 733.9h0M356.9 741.8h0M408.5 740.6h0M412.9 741.9h0" fill="none" stroke="#808180" stroke-width="19.6" stroke-linecap="round"/>
<path d="M143.1 662.5C146.1 662.4 154.4 661.8 160.8 661.5C167.2 661.2 174.6 661.1 181.5 660.9C188.4 660.7 195.3 660.6 202.3 660.5C209.2 660.3 216.1 660.3 223.0 660.1C229.9 659.8 236.9 659.5 243.8 659.0C250.7 658.5 257.6 657.7 264.5 656.9C271.5 656.1 278.4 655.5 285.3 654.2C292.2 653.0 299.1 651.0 306.0 649.5C313.0 647.9 319.9 646.2 326.8 644.9C333.7 643.6 341.3 642.6 347.6 641.8C353.8 641.0 358.6 640.5 364.2 640.3C369.7 640.2 375.2 640.2 380.8 640.8C386.3 641.3 392.5 642.9 397.4 643.9C402.2 644.8 405.1 645.3 410.0 646.5C414.9 647.7 420.7 649.8 426.6 651.1C432.5 652.4 439.1 653.7 445.3 654.4C451.5 655.1 457.7 655.3 464.0 655.4C470.2 655.6 476.4 655.5 482.6 655.4C488.9 655.3 495.4 655.1 501.3 654.8C507.2 654.5 512.4 654.5 517.9 653.8C523.5 653.1 528.3 652.2 534.5 650.7C540.8 649.2 548.4 646.6 555.3 644.9C562.2 643.1 569.1 641.4 576.0 640.3C583.0 639.2 590.6 638.7 596.8 638.2C603.0 637.7 608.6 637.9 613.4 637.2C618.2 636.5 622.1 635.6 625.9 634.1C629.7 632.5 632.8 630.1 636.2 627.8C639.7 625.6 643.2 623.3 646.6 620.6C650.1 617.8 653.5 615.0 657.0 611.2C660.4 607.4 663.9 602.9 667.4 597.7C670.8 592.6 674.3 586.7 677.7 580.1C681.2 573.5 686.4 561.9 688.1 558.3" fill="none" stroke="#0000ff" stroke-width="4.9" stroke-dasharray="18.42 8.16" stroke-dashoffset="7.7"/>
<path d="M143.1 817.2C146.1 817.0 154.4 816.5 160.8 816.1C167.2 815.8 174.6 815.4 181.5 815.1C188.4 814.8 195.3 814.3 202.3 814.1C209.2 813.8 216.1 813.8 223.0 813.4C229.9 813.1 236.9 812.6 243.8 812.0C250.7 811.4 257.6 810.8 264.5 809.9C271.5 809.0 278.4 808.1 285.3 806.8C292.2 805.5 299.1 803.8 306.0 802.2C313.0 800.7 319.9 798.8 326.8 797.5C333.7 796.1 341.3 794.9 347.6 793.9C353.8 793.0 358.6 792.3 364.2 791.9C369.7 791.4 375.2 791.0 380.8 791.2C386.3 791.5 392.5 792.5 397.4 793.3C402.2 794.1 405.1 794.7 410.0 795.9C414.9 797.0 420.7 798.8 426.6 800.0C432.5 801.2 439.1 802.4 445.3 803.1C451.5 803.8 457.7 803.9 464.0 804.2C470.2 804.4 476.4 804.6 482.6 804.6C488.9 804.5 495.4 804.1 501.3 803.7C507.2 803.4 512.4 803.3 517.9 802.7C523.5 802.1 528.3 801.4 534.5 800.0C540.8 798.6 548.4 796.1 555.3 794.4C562.2 792.7 569.1 790.8 576.0 789.6C583.0 788.5 590.6 788.1 596.8 787.6C603.0 787.0 608.6 787.2 613.4 786.5C618.2 785.8 622.1 785.0 625.9 783.4C629.7 781.8 632.8 779.4 636.2 777.2C639.7 774.9 643.2 772.7 646.6 769.9C650.1 767.1 653.5 764.4 657.0 760.6C660.4 756.8 663.9 752.3 667.4 747.1C670.8 741.9 674.3 736.0 677.7 729.4C681.2 722.9 686.4 711.3 688.1 707.6" fill="none" stroke="#0000ff" stroke-width="4.9" stroke-dasharray="18.42 8.16" stroke-dashoffset="7.7"/>
<path d="M143.1 740.4C146.1 740.1 154.4 739.3 160.8 738.9C167.2 738.5 174.6 738.2 181.5 737.9C188.4 737.6 195.3 737.5 202.3 737.3C209.2 737.0 216.1 736.7 223.0 736.2C229.9 735.8 236.9 735.2 243.8 734.6C250.7 733.9 257.6 733.3 264.5 732.5C271.5 731.7 278.4 730.9 285.3 729.6C292.2 728.3 299.1 726.4 306.0 724.8C313.0 723.3 319.9 721.6 326.8 720.2C333.7 718.9 341.3 717.7 347.6 716.9C353.8 716.1 358.6 715.6 364.2 715.5C369.7 715.3 375.2 715.3 380.8 715.9C386.3 716.5 392.5 718.1 397.4 719.0C402.2 719.9 405.1 720.1 410.0 721.1C414.9 722.2 420.7 724.1 426.6 725.3C432.5 726.5 439.1 727.7 445.3 728.4C451.5 729.1 457.7 729.3 464.0 729.4C470.2 729.6 476.4 729.5 482.6 729.4C488.9 729.4 495.4 729.3 501.3 729.0C507.2 728.8 512.4 728.6 517.9 728.0C523.5 727.4 528.3 726.7 534.5 725.3C540.8 723.9 548.4 721.2 555.3 719.5C562.2 717.7 569.1 716.0 576.0 714.9C583.0 713.8 590.6 713.4 596.8 712.8C603.0 712.2 608.6 712.1 613.4 711.4C618.2 710.6 622.1 709.8 625.9 708.3C629.7 706.7 632.8 704.3 636.2 702.0C639.7 699.8 643.2 697.1 646.6 694.6C650.1 692.1 653.5 690.8 657.0 687.0C660.4 683.1 663.9 676.8 667.4 671.4C670.8 666.1 674.3 661.0 677.7 654.8C681.2 648.6 686.4 637.5 688.1 634.1" fill="none" stroke="#ff2a12" stroke-width="4.9" stroke-dasharray="18.42 8.16" stroke-dashoffset="7.7"/>
<rect x="480.3" y="515.9" width="12.55" height="362.0" fill="#318a1d"/>
<rect x="485.4" y="515.9" width="2.50" height="362.0" fill="#eea52d"/>
<rect x="635.0" y="515.9" width="12.10" height="362.0" fill="#318a1d"/>
<rect x="640.0" y="515.9" width="2.15" height="362.0" fill="#eea52d"/>
</g>
<rect x="143.0" y="490.6" width="544.3" height="406.0" fill="none" stroke="#000" stroke-width="2.6"/>
<line x1="143.0" y1="896.6" x2="143.0" y2="908.8000000000001" stroke="#000" stroke-width="2.6"/>
<text transform="translate(143.0 945.4) scale(0.968 1)" font-size="34.5" text-anchor="middle">1700</text>
<line x1="313.1" y1="896.6" x2="313.1" y2="908.8000000000001" stroke="#000" stroke-width="2.6"/>
<text transform="translate(313.1 945.4) scale(0.968 1)" font-size="34.5" text-anchor="middle">1800</text>
<line x1="483.2" y1="896.6" x2="483.2" y2="908.8000000000001" stroke="#000" stroke-width="2.6"/>
<text transform="translate(483.2 945.4) scale(0.968 1)" font-size="34.5" text-anchor="middle">1900</text>
<line x1="653.3" y1="896.6" x2="653.3" y2="908.8000000000001" stroke="#000" stroke-width="2.6"/>
<text transform="translate(653.3 945.4) scale(0.968 1)" font-size="34.5" text-anchor="middle">2000</text>
<line x1="143.0" y1="538.1" x2="130.8" y2="538.1" stroke="#000" stroke-width="2.6"/>
<text transform="translate(118.6 550.8) scale(0.975 1)" font-size="34.5" text-anchor="end">4.0</text>
<line x1="143.0" y1="623.0" x2="130.8" y2="623.0" stroke="#000" stroke-width="2.6"/>
<text transform="translate(118.6 635.7) scale(0.975 1)" font-size="34.5" text-anchor="end">2.0</text>
<line x1="143.0" y1="708.0" x2="130.8" y2="708.0" stroke="#000" stroke-width="2.6"/>
<text transform="translate(118.6 720.7) scale(0.975 1)" font-size="34.5" text-anchor="end">0.0</text>
<line x1="143.0" y1="792.9" x2="130.8" y2="792.9" stroke="#000" stroke-width="2.6"/>
<text transform="translate(118.6 805.6) scale(0.975 1)" font-size="34.5" text-anchor="end">-2.0</text>
<line x1="143.0" y1="877.9" x2="130.8" y2="877.9" stroke="#000" stroke-width="2.6"/>
<text transform="translate(118.6 890.6) scale(0.975 1)" font-size="34.5" text-anchor="end">-4.0</text>
<text x="148.4" y="524.3" font-size="39.3">c</text>
</g>
<g id="panel-d">
<clipPath id="clipd"><rect x="796.8" y="490.6" width="543.9" height="406.0"/></clipPath>
<g clip-path="url(#clipd)">
<path d="M825.7 655.7h0M804.3 674.3h0M815.8 679.5h0M799.2 686.8h0M842.3 671.2h0M864.5 676.4h0M855.2 680.6h0M912.3 669.2h0M925.8 682.6h0M944.9 658.8h0M947.6 678.5h0M977.6 657.7h0M969.3 672.3h0M987.0 632.4h0M1007.7 652.5h0M992.2 670.2h0M1031.6 641.1h0M1029.5 659.8h0M1053.4 620.4h0M1073.1 612.1h0M1069.0 634.9h0M1054.4 657.7h0M1041.0 797.8h0M1075.0 811.3h0M1073.3 612.3h0M1168.2 575.5h0M1258.4 554.8h0M1270.5 579.1h0M1159.4 781.3h0M1108.6 789.6h0M1102.4 793.8h0M1089.9 803.1h0M1078.5 812.5h0M1095.7 819.7h0M1109.6 806.2h0M1129.3 795.9h0M1130.4 803.1h0M1150.1 801.0h0M1204.1 803.1h0M1218.6 791.7h0M1231.0 793.8h0M1235.2 797.9h0M1251.8 793.8h0M1249.7 806.2h0M1260.1 810.4h0M1264.3 787.6h0M1272.6 781.3h0M1285.0 814.5h0M1291.2 789.6h0M1301.6 793.8h0M1320.3 815.6h0M1334.8 797.9h0M1334.8 836.3h0M1317.8 865.4h0M1036.7 543.0h0M1044.6 568.5h0M1049.8 574.3h0M790.8 713.8h0M803.8 714.7h0M810.6 706.5h0M825.4 707.3h0M826.1 697.2h0M836.5 693.0h0M846.7 699.9h0M855.2 693.0h0M860.8 703.0h0M869.7 701.3h0M877.5 711.3h0M887.4 707.6h0M897.3 706.8h0M898.8 699.2h0M902.9 693.0h0M914.3 697.9h0M923.7 690.9h0M929.9 697.3h0M936.1 697.2h0M946.3 692.3h0M947.6 678.5h0M961.9 677.9h0M969.3 672.3h0M983.4 674.9h0M992.2 670.2h0M1000.9 679.8h0M1012.9 680.6h0M1022.5 672.4h0M1023.3 664.0h0M1029.5 657.7h0M1043.0 661.3h0M1054.4 657.7h0M1064.9 648.1h0M1060.8 638.2h0M1070.2 635.1h0M1075.2 643.6h0M1081.6 640.3h0M1091.6 632.1h0M1094.1 623.7h0M1104.4 632.0h0M1113.6 642.1h0M1119.0 640.3h0M1129.8 644.2h0M1135.6 635.1h0M1147.2 639.5h0M1148.0 629.9h0M1157.4 619.5h0M1167.7 624.4h0M1172.9 619.5h0M1184.2 628.0h0M1193.7 626.8h0M1203.0 627.8h0M1211.5 631.8h0M1218.6 627.8h0M1230.6 622.4h0M1231.0 608.1h0M1242.0 600.9h0M1243.1 594.6h0M1245.6 605.9h0M1258.0 606.0h0M1270.5 607.1h0M1280.9 602.6h0M1280.9 586.3h0M1291.2 588.4h0M1296.2 581.3h0M1299.1 570.5h0M1299.1 560.4h0M1305.0 553.7h0M1308.9 538.6h0M1314.5 547.2h0M1325.5 546.9h0M1324.7 555.9h0M1330.7 565.6h0M1337.0 575.1h0M1343.1 573.9h0M1336.5 584.0h0M1335.4 598.5h0M1335.2 612.5h0M1335.1 624.5h0M1339.9 636.7h0M1336.9 648.1h0M1335.5 659.9h0M1337.2 676.0h0M1340.3 693.1h0M1334.7 705.2h0M1337.5 718.1h0M1337.9 729.6h0M1335.4 740.3h0M1337.2 752.4h0M1337.0 763.3h0M1343.1 777.2h0M1333.2 769.7h0M1326.5 777.2h0M1314.1 775.7h0M1309.9 783.4h0M1297.5 785.4h0M1301.6 793.8h0M1291.2 791.7h0M1285.6 783.3h0M1272.6 781.3h0M1264.3 787.6h0M1261.9 776.5h0M1251.8 773.0h0M1241.4 770.9h0M1231.0 762.6h0M1221.5 756.7h0M1210.3 761.6h0M1199.3 761.1h0M1191.6 766.8h0M1180.5 757.2h0M1168.8 760.6h0M1154.2 762.6h0M1144.7 759.7h0M1133.5 765.8h0M1121.2 757.8h0M1108.6 766.8h0M1095.4 763.2h0M1089.9 769.9h0M1077.7 770.1h0M1071.2 775.1h0M1060.3 770.3h0M1056.5 774.0h0M1049.9 762.8h0M1039.9 767.7h0M1029.5 757.3h0M1023.3 763.6h0M1009.3 757.8h0M1002.6 767.7h0M993.7 759.4h0M981.8 767.7h0M971.2 772.3h0M971.4 782.3h0M966.0 769.7h0M961.0 767.7h0M951.1 770.5h0M950.7 782.3h0M939.5 780.1h0M936.1 783.3h0M922.6 788.5h0M921.2 778.5h0M917.5 776.0h0M914.9 762.2h0M905.0 759.4h0M896.2 769.6h0M896.7 786.4h0M893.1 773.7h0M888.4 771.9h0M884.4 759.3h0M873.9 759.4h0M863.0 753.3h0M855.2 762.6h0M847.5 753.0h0M839.6 751.1h0M830.5 747.6h0M822.0 755.3h0M810.3 761.9h0M811.6 770.9h0M800.0 768.6h0M790.8 771.9h0M796.1 761.3h0M796.0 743.8h0M798.0 731.1h0M796.8 718.0h0M1317.2 550.9h0M1310.2 557.6h0M1317.6 563.9h0M1311.8 571.2h0M1323.7 570.5h0M1312.2 576.7h0M1316.2 577.6h0M1323.9 578.9h0M1337.4 578.8h0M1304.9 584.1h0M1311.5 584.2h0M1317.0 584.6h0M1323.2 585.0h0M1298.3 591.0h0M1304.4 589.1h0M1311.4 591.4h0M1318.4 589.3h0M1323.7 591.5h0M1283.9 598.1h0M1298.0 596.0h0M1302.9 597.6h0M1310.3 597.0h0M1318.3 597.0h0M1325.1 597.0h0M1329.4 596.8h0M1290.4 603.9h0M1297.2 605.0h0M1303.1 605.0h0M1311.8 604.6h0M1316.9 603.3h0M1325.0 603.9h0M1331.7 604.5h0M1238.4 609.1h0M1245.7 611.5h0M1252.4 611.5h0M1283.5 608.8h0M1291.4 609.5h0M1296.6 611.2h0M1303.0 608.9h0M1311.5 610.1h0M1317.0 610.5h0M1324.6 611.2h0M1329.4 608.7h0M1234.0 615.1h0M1239.6 615.8h0M1244.6 617.6h0M1258.6 615.2h0M1272.9 617.7h0M1277.2 616.6h0M1283.9 617.2h0M1290.5 617.3h0M1297.5 615.9h0M1305.7 617.9h0M1310.3 617.7h0M1316.0 617.5h0M1323.7 616.3h0M1330.9 615.9h0M1232.0 623.9h0M1238.4 623.2h0M1245.5 622.0h0M1251.3 621.7h0M1259.8 623.4h0M1266.3 623.9h0M1270.4 624.0h0M1279.0 623.9h0M1283.6 624.4h0M1292.6 623.4h0M1297.1 623.4h0M1303.9 624.3h0M1310.5 621.9h0M1318.0 624.5h0M1322.7 624.2h0M1330.3 624.2h0M1337.9 624.0h0M1154.8 630.0h0M1168.5 629.2h0M1182.0 630.5h0M1225.0 629.7h0M1233.8 629.1h0M1238.8 630.1h0M1247.0 628.9h0M1252.3 628.4h0M1259.4 629.7h0M1265.1 631.0h0M1270.7 628.5h0M1277.0 630.2h0M1285.3 629.8h0M1292.7 629.0h0M1296.7 630.5h0M1303.8 629.8h0M1312.0 628.3h0M1318.7 629.2h0M1322.9 630.7h0M1329.5 629.4h0M1161.1 634.7h0M1166.7 634.8h0M1173.1 636.2h0M1181.6 637.2h0M1186.9 637.4h0M1200.7 634.8h0M1214.3 636.8h0M1225.2 636.9h0M1233.5 635.5h0M1238.8 637.4h0M1247.2 636.4h0M1253.4 637.3h0M1259.0 635.4h0M1266.1 637.5h0M1271.1 635.1h0M1279.3 636.9h0M1285.6 636.2h0M1291.3 637.1h0M1297.5 637.3h0M1302.9 637.5h0M1309.9 635.6h0M1317.4 636.5h0M1324.2 635.7h0M1329.3 635.8h0M1070.0 643.7h0M1096.5 641.7h0M1143.2 641.2h0M1146.9 641.3h0M1154.1 641.8h0M1161.8 641.9h0M1168.9 642.4h0M1173.9 641.2h0M1180.0 642.5h0M1188.3 642.9h0M1194.5 641.8h0M1199.1 641.5h0M1213.7 642.9h0M1219.1 641.2h0M1227.5 641.9h0M1234.3 643.2h0M1239.6 643.9h0M1246.8 641.9h0M1251.3 642.0h0M1259.8 643.8h0M1264.9 643.7h0M1272.2 643.6h0M1277.3 643.0h0M1284.8 641.2h0M1291.4 643.7h0M1296.4 642.1h0M1303.7 644.0h0M1310.8 644.0h0M1317.6 643.3h0M1324.2 643.4h0M1330.5 641.9h0M1071.7 648.7h0M1076.0 649.7h0M1096.7 650.2h0M1102.6 648.2h0M1109.3 650.6h0M1116.2 650.0h0M1121.9 650.0h0M1134.8 649.8h0M1140.9 648.0h0M1147.8 649.4h0M1153.5 648.3h0M1161.0 649.8h0M1168.9 649.6h0M1175.6 649.1h0M1181.8 648.5h0M1186.9 650.1h0M1194.8 649.0h0M1201.8 650.1h0M1205.8 648.3h0M1212.9 647.8h0M1220.9 650.2h0M1226.3 650.2h0M1232.0 649.0h0M1240.2 648.1h0M1245.6 649.2h0M1251.5 650.3h0M1259.6 650.5h0M1265.2 648.6h0M1272.5 648.2h0M1279.6 649.7h0M1285.2 650.5h0M1292.5 650.5h0M1299.1 649.0h0M1305.1 650.5h0M1310.9 648.4h0M1316.7 649.4h0M1324.9 649.2h0M1330.1 648.3h0M1064.9 655.3h0M1069.3 655.1h0M1075.6 655.5h0M1081.9 656.0h0M1088.6 656.4h0M1095.6 656.7h0M1102.3 654.4h0M1110.3 657.0h0M1116.5 655.6h0M1122.5 654.5h0M1129.9 655.0h0M1134.2 655.9h0M1141.7 655.9h0M1149.8 656.3h0M1155.4 656.0h0M1162.8 657.0h0M1167.4 654.4h0M1174.2 655.9h0M1181.8 656.4h0M1187.3 656.2h0M1195.0 655.6h0M1200.4 654.5h0M1207.4 656.9h0M1214.7 656.0h0M1220.4 655.9h0M1226.8 656.8h0M1231.6 657.0h0M1240.7 655.9h0M1244.4 656.4h0M1251.8 656.0h0M1258.6 655.9h0M1266.7 655.0h0M1272.3 655.1h0M1278.5 654.6h0M1285.6 655.6h0M1291.4 655.6h0M1297.2 655.2h0M1302.9 656.7h0M1309.7 656.1h0M1316.6 656.3h0M1323.9 655.4h0M1331.4 657.1h0M1057.5 662.3h0M1069.7 663.3h0M1077.9 662.6h0M1081.9 663.1h0M1089.1 663.1h0M1096.1 661.8h0M1102.3 663.3h0M1110.2 662.0h0M1117.3 662.2h0M1123.0 662.1h0M1129.5 661.4h0M1136.8 662.3h0M1142.1 663.1h0M1149.0 662.4h0M1154.9 662.1h0M1162.0 660.7h0M1166.6 662.1h0M1173.9 661.0h0M1180.0 663.5h0M1187.5 662.7h0M1192.6 661.8h0M1200.8 661.6h0M1205.8 660.6h0M1212.7 663.2h0M1219.8 660.7h0M1225.5 661.1h0M1232.8 661.9h0M1240.5 662.0h0M1245.5 661.4h0M1253.3 663.0h0M1257.7 661.3h0M1263.9 663.4h0M1272.8 661.4h0M1278.7 662.0h0M1285.2 661.4h0M1291.7 662.9h0M1298.3 663.6h0M1303.3 663.1h0M1311.7 660.6h0M1317.0 660.9h0M1325.0 663.5h0M1330.1 662.4h0M1032.8 668.4h0M1044.2 669.6h0M1049.8 669.8h0M1056.5 667.5h0M1064.2 669.1h0M1070.9 668.7h0M1078.3 669.8h0M1083.7 667.8h0M1090.1 669.6h0M1096.6 667.9h0M1104.2 668.2h0M1108.3 667.5h0M1116.1 669.5h0M1123.5 669.9h0M1130.0 668.4h0M1134.7 669.1h0M1142.0 669.7h0M1148.9 667.6h0M1155.3 669.2h0M1162.7 667.4h0M1166.6 667.7h0M1175.8 669.2h0M1179.4 669.3h0M1187.0 668.6h0M1193.3 669.9h0M1199.9 668.0h0M1205.8 668.1h0M1212.0 669.2h0M1220.0 668.1h0M1225.9 667.5h0M1232.7 669.1h0M1239.4 667.8h0M1245.7 668.8h0M1252.7 668.3h0M1258.7 667.2h0M1266.5 668.0h0M1272.6 667.9h0M1279.8 669.7h0M1285.4 668.5h0M1292.7 670.0h0M1297.8 669.9h0M1304.9 667.5h0M1310.8 668.6h0M1317.7 667.7h0M1323.8 669.1h0M1331.4 668.3h0M1336.6 668.0h0M1032.3 673.8h0M1038.8 674.1h0M1043.8 674.7h0M1050.7 673.9h0M1056.5 675.6h0M1063.9 676.1h0M1071.6 675.1h0M1078.1 675.5h0M1082.9 676.0h0M1091.3 675.8h0M1097.2 676.4h0M1101.4 675.2h0M1110.6 675.5h0M1116.2 675.2h0M1121.7 674.0h0M1129.5 676.2h0M1135.1 674.6h0M1140.6 676.1h0M1148.8 674.2h0M1153.5 674.7h0M1160.5 675.8h0M1168.3 674.4h0M1175.3 674.6h0M1179.7 673.9h0M1188.7 673.8h0M1193.3 675.3h0M1199.6 674.2h0M1208.1 674.0h0M1213.4 676.0h0M1220.0 676.4h0M1226.0 676.5h0M1234.2 673.8h0M1239.9 675.1h0M1246.1 674.3h0M1253.7 674.2h0M1257.5 674.7h0M1263.9 673.6h0M1271.7 675.9h0M1279.6 674.8h0M1284.5 675.0h0M1290.7 673.7h0M1297.0 674.6h0M1305.5 674.6h0M1310.9 674.1h0M1316.8 676.5h0M1324.6 674.8h0M1329.7 675.1h0M959.7 680.6h0M971.4 681.6h0M980.1 683.0h0M984.4 681.1h0M999.0 682.8h0M1019.8 681.5h0M1032.2 680.7h0M1038.4 680.6h0M1044.4 680.7h0M1050.6 682.9h0M1056.3 682.7h0M1063.9 681.3h0M1070.8 682.3h0M1077.0 681.0h0M1083.2 683.0h0M1090.9 681.6h0M1096.2 681.1h0M1104.1 682.0h0M1110.7 680.4h0M1115.6 680.9h0M1123.7 681.6h0M1129.5 682.2h0M1134.7 681.4h0M1140.4 680.9h0M1148.2 680.4h0M1155.6 681.9h0M1160.5 682.1h0M1167.6 682.4h0M1173.5 680.2h0M1181.9 680.9h0M1188.6 682.6h0M1192.4 682.2h0M1201.5 681.4h0M1207.1 681.5h0M1214.5 681.9h0M1218.5 681.8h0M1226.9 682.7h0M1232.5 682.8h0M1240.8 680.8h0M1245.6 680.6h0M1253.2 682.6h0M1257.8 682.5h0M1266.2 682.4h0M1272.3 682.4h0M1277.2 681.4h0M1286.2 682.2h0M1290.6 681.9h0M1298.8 680.3h0M1304.8 682.7h0M1309.8 680.6h0M1318.3 681.6h0M1325.0 683.1h0M1330.7 681.1h0M965.1 689.3h0M973.7 688.8h0M980.2 687.2h0M986.8 687.0h0M991.1 687.8h0M997.5 688.0h0M1006.2 687.2h0M1010.9 686.9h0M1026.3 689.0h0M1032.2 688.4h0M1039.3 687.3h0M1043.4 688.7h0M1049.4 687.7h0M1057.4 688.0h0M1062.9 687.2h0M1070.2 688.6h0M1077.7 686.7h0M1082.9 688.2h0M1090.3 687.7h0M1096.7 688.9h0M1104.3 689.5h0M1110.2 689.6h0M1116.3 687.8h0M1122.4 687.1h0M1130.3 688.9h0M1135.6 689.3h0M1141.3 687.4h0M1147.2 687.2h0M1155.8 689.4h0M1160.9 687.9h0M1168.4 688.7h0M1175.1 688.5h0M1180.4 689.1h0M1186.7 687.7h0M1193.5 688.4h0M1201.6 688.3h0M1206.1 687.2h0M1212.6 687.4h0M1220.8 688.1h0M1225.1 687.7h0M1231.4 689.0h0M1238.2 689.5h0M1246.9 688.6h0M1252.6 689.0h0M1258.1 688.9h0M1264.3 688.1h0M1270.7 688.9h0M1278.1 686.6h0M1283.4 689.5h0M1291.3 688.0h0M1296.5 687.4h0M1305.0 687.6h0M1311.2 688.7h0M1317.9 687.8h0M1324.1 688.0h0M1331.1 688.2h0M1335.9 688.1h0M954.1 694.4h0M959.1 695.8h0M966.4 693.6h0M973.7 695.7h0M979.2 695.9h0M984.8 693.5h0M992.6 693.2h0M999.4 695.9h0M1005.0 694.1h0M1011.7 695.6h0M1018.6 693.8h0M1024.5 694.6h0M1031.7 695.4h0M1037.6 694.4h0M1044.1 695.4h0M1049.8 694.1h0M1056.0 694.8h0M1065.0 693.8h0M1070.2 694.1h0M1077.4 693.5h0M1082.8 694.1h0M1089.4 694.4h0M1097.6 693.4h0M1103.5 696.0h0M1109.3 695.6h0M1116.9 696.1h0M1123.4 695.4h0M1128.2 694.8h0M1135.6 695.2h0M1141.1 696.0h0M1148.3 695.7h0M1155.9 695.7h0M1161.1 695.6h0M1167.3 695.5h0M1174.5 695.7h0M1182.3 696.0h0M1188.4 693.6h0M1194.2 695.8h0M1201.4 694.7h0M1206.0 696.0h0M1214.8 693.7h0M1219.5 693.2h0M1226.9 693.2h0M1232.7 693.7h0M1240.0 695.3h0M1246.3 695.7h0M1252.8 694.0h0M1257.5 693.7h0M1266.3 695.8h0M1272.3 695.9h0M1277.3 693.6h0M1284.1 696.0h0M1291.8 693.6h0M1296.8 693.1h0M1304.3 695.3h0M1311.6 693.6h0M1316.0 694.2h0M1323.0 694.3h0M836.5 701.9h0M844.3 700.6h0M855.0 700.7h0M908.8 701.5h0M915.7 701.8h0M920.8 701.2h0M926.8 700.4h0M941.1 701.8h0M952.5 702.2h0M960.0 700.3h0M967.3 700.9h0M973.6 701.5h0M980.5 701.7h0M986.3 700.8h0M990.9 701.0h0M999.8 699.9h0M1006.0 700.6h0M1013.2 702.3h0M1019.4 702.2h0M1025.7 700.6h0M1031.7 702.4h0M1038.7 701.2h0M1044.1 700.6h0M1049.4 700.9h0M1056.4 700.6h0M1062.7 701.6h0M1070.4 701.9h0M1076.5 702.3h0M1083.4 701.5h0M1091.0 700.0h0M1095.2 701.0h0M1102.2 702.5h0M1109.6 700.9h0M1115.7 701.7h0M1121.9 702.2h0M1129.6 701.7h0M1136.0 701.5h0M1140.4 699.9h0M1147.9 699.7h0M1156.2 699.7h0M1161.2 701.4h0M1167.0 701.6h0M1173.6 700.5h0M1181.9 699.6h0M1186.6 701.2h0M1192.9 700.8h0M1201.4 701.5h0M1208.0 700.2h0M1214.1 700.9h0M1221.1 701.2h0M1225.7 701.3h0M1233.0 701.9h0M1238.5 700.4h0M1247.1 700.7h0M1253.4 701.4h0M1258.9 701.8h0M1264.3 700.0h0M1271.3 702.5h0M1277.4 702.1h0M1285.5 699.8h0M1292.0 701.2h0M1296.8 701.4h0M1304.8 700.1h0M1311.2 700.0h0M1316.5 702.2h0M1323.8 701.3h0M1330.0 701.7h0M1337.8 700.5h0M824.8 707.9h0M830.6 707.7h0M836.7 706.6h0M843.4 708.5h0M848.1 706.5h0M856.8 707.5h0M860.9 706.9h0M901.6 706.5h0M906.6 708.4h0M913.4 709.0h0M920.8 706.5h0M927.3 708.0h0M933.1 708.3h0M940.3 706.7h0M945.4 706.9h0M952.2 706.1h0M959.0 706.5h0M967.3 709.0h0M971.6 706.8h0M980.4 707.9h0M987.2 706.2h0M991.2 708.9h0M1000.2 707.6h0M1004.9 706.6h0M1013.0 708.8h0M1017.5 706.4h0M1026.2 708.6h0M1030.9 706.9h0M1039.3 706.2h0M1044.0 708.3h0M1052.0 706.7h0M1056.3 707.3h0M1063.5 706.9h0M1071.2 707.7h0M1078.0 707.1h0M1084.2 706.4h0M1091.1 706.7h0M1097.6 706.8h0M1101.6 707.3h0M1108.4 708.7h0M1117.0 707.7h0M1122.5 708.5h0M1130.0 707.5h0M1134.6 708.7h0M1142.5 706.2h0M1149.7 708.5h0M1155.7 706.2h0M1161.9 708.3h0M1169.2 708.5h0M1174.7 706.3h0M1179.7 707.8h0M1186.7 708.6h0M1193.8 708.4h0M1200.6 709.0h0M1207.2 708.3h0M1213.7 707.9h0M1220.7 707.8h0M1226.1 707.6h0M1233.0 708.0h0M1240.5 708.0h0M1245.4 706.6h0M1253.1 706.5h0M1258.6 708.3h0M1264.6 708.3h0M1273.0 707.9h0M1279.8 708.8h0M1285.3 709.1h0M1290.3 708.3h0M1297.1 708.6h0M1305.7 707.8h0M1311.8 709.0h0M1316.4 707.4h0M1323.8 706.8h0M1329.0 707.6h0M1337.4 708.1h0M809.3 714.0h0M822.0 713.6h0M829.2 714.6h0M837.3 714.6h0M842.0 713.9h0M849.7 714.6h0M856.6 715.1h0M861.1 712.8h0M869.8 715.6h0M875.6 714.2h0M894.8 714.0h0M907.5 715.3h0M915.1 714.8h0M919.4 714.1h0M926.7 714.1h0M933.6 715.2h0M941.7 715.0h0M946.4 715.0h0M952.8 714.6h0M958.5 713.6h0M966.3 713.3h0M971.5 714.3h0M978.7 715.5h0M986.1 714.4h0M992.4 713.5h0M999.0 713.7h0M1003.9 714.6h0M1011.3 714.9h0M1019.7 715.3h0M1025.9 715.0h0M1030.5 715.1h0M1038.8 715.3h0M1043.7 715.1h0M1050.3 713.7h0M1056.3 713.0h0M1063.4 713.5h0M1070.7 714.1h0M1078.0 712.7h0M1084.4 714.0h0M1090.8 714.4h0M1095.4 712.9h0M1103.6 715.4h0M1109.6 712.9h0M1116.0 715.1h0M1123.2 714.4h0M1129.3 714.9h0M1135.2 714.6h0M1141.5 712.7h0M1149.6 714.0h0M1155.4 714.6h0M1162.1 715.0h0M1167.3 714.7h0M1174.8 713.2h0M1181.0 712.7h0M1187.0 714.0h0M1193.3 714.2h0M1200.7 713.7h0M1205.8 715.1h0M1214.4 715.2h0M1221.3 714.2h0M1227.0 713.3h0M1234.0 714.9h0M1237.9 714.8h0M1246.7 715.5h0M1253.7 715.2h0M1259.0 714.1h0M1265.1 713.1h0M1272.8 715.4h0M1279.1 714.6h0M1286.0 713.4h0M1290.5 713.9h0M1298.6 713.9h0M1303.7 713.0h0M1312.0 715.2h0M1317.5 712.8h0M1323.0 713.9h0M1330.5 713.4h0M809.0 720.6h0M816.3 720.8h0M822.5 720.9h0M829.5 721.3h0M835.7 719.1h0M842.7 721.2h0M850.2 720.2h0M856.7 721.7h0M861.0 721.3h0M869.6 720.6h0M874.1 720.8h0M880.7 719.9h0M888.3 719.6h0M895.1 720.6h0M900.7 721.2h0M906.7 721.8h0M913.9 720.8h0M920.2 719.3h0M926.3 720.4h0M932.6 722.1h0M939.6 721.5h0M948.0 721.7h0M952.7 719.2h0M959.7 721.6h0M966.1 721.8h0M972.6 720.7h0M977.9 721.9h0M985.0 721.3h0M993.4 719.2h0M1000.2 719.2h0M1004.9 720.0h0M1012.9 719.7h0M1018.5 720.4h0M1024.2 721.4h0M1030.8 720.2h0M1036.7 720.2h0M1044.2 721.0h0M1049.9 721.8h0M1058.8 722.0h0M1063.7 721.3h0M1068.9 719.5h0M1076.6 720.9h0M1082.0 722.0h0M1090.7 720.6h0M1096.6 720.9h0M1103.7 721.2h0M1108.9 720.3h0M1116.2 720.3h0M1123.5 719.9h0M1128.8 719.2h0M1135.1 721.1h0M1143.3 719.9h0M1148.3 721.9h0M1153.5 719.3h0M1161.1 721.3h0M1166.6 720.5h0M1173.2 720.7h0M1180.3 720.2h0M1186.4 720.1h0M1194.3 720.1h0M1199.6 720.3h0M1208.2 719.2h0M1212.7 719.4h0M1218.9 719.4h0M1227.3 720.6h0M1233.3 719.4h0M1240.7 720.7h0M1244.9 719.6h0M1252.9 721.1h0M1258.0 720.4h0M1266.8 720.4h0M1271.8 719.9h0M1277.8 721.3h0M1285.5 721.2h0M1291.9 722.1h0M1298.8 719.3h0M1305.5 720.5h0M1311.4 721.4h0M1318.4 720.9h0M1323.5 720.9h0M1331.8 719.3h0M803.9 726.5h0M811.0 726.0h0M818.1 727.0h0M824.4 728.6h0M828.4 726.4h0M835.8 728.1h0M842.9 727.4h0M848.9 727.4h0M855.9 728.3h0M862.8 726.0h0M868.2 727.1h0M875.6 727.5h0M881.9 726.5h0M888.9 726.2h0M894.2 725.9h0M901.1 728.2h0M909.1 727.4h0M913.7 728.1h0M922.1 727.9h0M927.7 727.4h0M934.4 726.6h0M939.0 725.7h0M946.9 727.6h0M952.4 726.3h0M959.5 725.8h0M965.0 726.6h0M973.8 728.0h0M978.2 727.1h0M985.4 728.1h0M990.9 726.4h0M998.9 726.8h0M1005.2 727.0h0M1012.0 727.9h0M1018.4 727.8h0M1024.0 726.2h0M1031.3 728.4h0M1037.4 726.5h0M1044.8 727.7h0M1051.5 725.7h0M1056.3 725.9h0M1065.3 727.8h0M1071.0 727.7h0M1076.2 728.2h0M1082.5 725.6h0M1088.5 727.2h0M1097.8 726.7h0M1101.6 726.7h0M1110.4 725.9h0M1117.3 728.2h0M1123.2 726.6h0M1128.6 725.6h0M1134.1 728.2h0M1142.0 728.0h0M1148.0 727.2h0M1154.4 727.7h0M1160.5 725.6h0M1168.5 727.2h0M1173.3 727.0h0M1180.1 725.9h0M1186.8 726.0h0M1194.2 728.5h0M1199.1 725.6h0M1207.4 726.9h0M1212.2 726.9h0M1219.7 726.4h0M1226.0 727.3h0M1232.6 728.1h0M1238.6 727.5h0M1246.6 727.4h0M1253.3 727.0h0M1258.0 728.2h0M1265.9 726.6h0M1270.7 725.7h0M1279.4 726.6h0M1284.4 728.0h0M1291.8 728.5h0M1298.7 727.5h0M1303.8 726.7h0M1311.7 728.2h0M1316.5 727.7h0M1324.1 727.5h0M1330.7 726.8h0M1337.9 727.0h0M804.4 732.9h0M811.3 733.9h0M817.8 733.4h0M822.7 733.0h0M828.8 734.2h0M835.7 734.5h0M842.1 733.3h0M850.3 735.1h0M857.1 733.7h0M862.5 734.7h0M867.9 734.5h0M876.5 732.1h0M880.9 732.8h0M888.0 734.5h0M895.8 732.9h0M901.9 734.3h0M907.9 734.1h0M914.7 733.7h0M919.9 734.7h0M928.1 734.0h0M933.3 732.6h0M939.8 732.3h0M945.7 732.1h0M952.1 734.9h0M960.5 732.1h0M966.4 732.4h0M973.4 733.0h0M980.7 732.8h0M985.7 734.9h0M991.0 734.0h0M999.0 733.9h0M1005.6 733.0h0M1012.3 732.2h0M1018.8 734.3h0M1025.0 735.1h0M1030.9 732.1h0M1039.1 733.7h0M1045.1 732.6h0M1049.9 734.2h0M1057.3 734.0h0M1062.9 734.2h0M1070.6 734.4h0M1076.9 732.6h0M1082.2 734.5h0M1089.0 732.4h0M1095.3 732.5h0M1103.2 733.5h0M1108.4 733.2h0M1116.0 732.2h0M1121.5 732.4h0M1128.3 734.5h0M1136.8 734.4h0M1143.2 734.6h0M1147.9 732.4h0M1153.8 734.2h0M1161.4 733.0h0M1166.6 732.7h0M1174.4 733.5h0M1180.0 734.9h0M1187.1 734.4h0M1192.4 733.8h0M1201.1 734.8h0M1205.4 732.4h0M1213.8 734.2h0M1220.9 732.8h0M1226.9 734.0h0M1232.9 733.4h0M1239.7 735.0h0M1246.5 733.2h0M1251.9 734.1h0M1259.8 732.6h0M1265.7 734.9h0M1272.5 734.5h0M1278.3 734.2h0M1285.9 734.9h0M1290.3 732.1h0M1297.8 734.1h0M1303.0 735.1h0M1311.9 732.7h0M1316.2 733.5h0M1323.9 734.5h0M1329.6 734.5h0M1335.7 732.2h0M798.2 739.4h0M803.5 741.2h0M809.8 740.4h0M815.5 741.4h0M824.2 740.0h0M836.3 740.9h0M843.3 741.0h0M856.4 739.0h0M862.9 740.1h0M869.5 739.7h0M874.6 740.8h0M880.5 741.3h0M889.0 739.9h0M894.6 740.3h0M902.6 740.4h0M907.1 741.5h0M914.6 739.7h0M922.1 739.1h0M928.2 738.9h0M934.9 740.1h0M941.8 740.0h0M945.9 738.8h0M954.8 740.6h0M960.2 738.7h0M967.7 740.1h0M972.2 739.8h0M980.4 740.8h0M987.2 741.2h0M990.9 738.8h0M1000.1 741.2h0M1006.7 740.4h0M1010.5 741.5h0M1018.4 738.8h0M1023.6 740.5h0M1030.6 740.2h0M1038.4 740.7h0M1043.7 741.5h0M1050.0 741.1h0M1055.9 739.6h0M1063.6 740.2h0M1069.0 739.6h0M1078.0 740.2h0M1082.8 741.5h0M1088.4 740.3h0M1095.0 741.1h0M1103.9 739.9h0M1108.1 741.5h0M1117.1 741.3h0M1122.7 740.2h0M1127.7 740.9h0M1136.3 740.9h0M1143.0 738.8h0M1149.6 739.8h0M1155.6 739.4h0M1160.7 741.0h0M1167.1 741.5h0M1173.1 740.9h0M1182.2 741.5h0M1185.9 738.8h0M1194.9 740.2h0M1199.6 739.5h0M1207.7 739.1h0M1214.0 741.5h0M1219.2 739.3h0M1225.8 740.8h0M1234.0 739.4h0M1240.6 738.8h0M1244.8 739.9h0M1251.3 739.5h0M1260.1 739.8h0M1265.0 739.9h0M1271.0 740.7h0M1279.2 739.7h0M1285.7 740.3h0M1290.0 741.6h0M1298.8 741.5h0M1305.3 739.0h0M1310.0 741.1h0M1316.6 739.9h0M1325.0 739.7h0M1336.7 740.2h0M810.9 746.4h0M815.7 745.5h0M824.7 745.1h0M835.8 746.1h0M844.0 747.2h0M850.4 745.8h0M855.9 746.8h0M863.3 745.4h0M867.7 747.9h0M874.9 745.7h0M882.5 746.8h0M888.8 745.8h0M894.4 746.9h0M908.8 745.1h0M913.0 747.1h0M921.3 745.4h0M926.6 746.9h0M934.5 746.5h0M940.4 746.1h0M947.4 747.0h0M953.7 745.9h0M960.5 747.2h0M965.5 746.4h0M973.3 745.9h0M980.5 745.6h0M986.3 747.8h0M993.3 747.7h0M999.2 745.7h0M1004.6 745.8h0M1011.5 745.7h0M1017.5 747.0h0M1025.4 746.8h0M1032.2 747.1h0M1037.2 747.4h0M1044.1 747.2h0M1052.0 748.1h0M1057.5 747.8h0M1062.8 745.1h0M1069.7 747.5h0M1077.8 747.2h0M1083.2 745.6h0M1088.9 745.2h0M1095.6 745.5h0M1102.0 746.8h0M1109.7 745.8h0M1115.8 745.7h0M1122.1 745.8h0M1129.9 747.9h0M1136.7 745.5h0M1143.0 745.4h0M1149.6 748.0h0M1153.5 746.2h0M1161.3 745.6h0M1168.3 746.5h0M1173.1 745.1h0M1182.0 746.8h0M1186.9 745.7h0M1192.8 747.5h0M1200.8 746.2h0M1205.7 745.4h0M1213.5 745.2h0M1220.4 746.9h0M1227.7 745.4h0M1231.6 746.5h0M1239.1 746.5h0M1246.2 745.3h0M1251.3 747.2h0M1257.5 746.4h0M1265.5 745.7h0M1271.8 747.4h0M1279.0 746.1h0M1285.5 745.8h0M1292.4 747.7h0M1296.8 746.8h0M1304.1 747.2h0M1309.6 746.4h0M1317.8 746.8h0M1322.7 746.9h0M1330.4 747.9h0M805.1 754.2h0M862.3 752.9h0M882.3 752.4h0M896.2 753.1h0M900.3 753.1h0M907.6 752.0h0M913.3 752.0h0M919.8 753.4h0M926.9 751.8h0M934.2 752.8h0M940.6 753.7h0M945.8 754.3h0M953.1 754.4h0M959.0 754.3h0M967.3 752.9h0M973.2 752.6h0M979.7 753.1h0M986.9 753.8h0M990.9 751.7h0M999.5 753.4h0M1004.5 753.1h0M1011.9 754.2h0M1017.5 752.4h0M1024.8 752.0h0M1032.4 752.9h0M1036.9 752.6h0M1044.7 753.1h0M1050.6 753.3h0M1057.3 753.5h0M1065.3 752.9h0M1069.9 752.2h0M1076.3 752.6h0M1083.4 754.3h0M1090.2 752.6h0M1096.6 752.4h0M1102.9 753.8h0M1110.5 753.5h0M1115.0 751.9h0M1127.4 752.8h0M1134.0 752.8h0M1161.1 752.1h0M1173.5 751.7h0M1180.1 751.9h0M1188.5 754.2h0M1194.1 751.9h0M1199.4 752.1h0M1206.4 753.3h0M1220.0 754.5h0M1225.5 753.6h0M1234.0 754.0h0M1238.6 752.1h0M1246.0 754.4h0M1253.0 752.0h0M1259.0 753.4h0M1266.0 752.1h0M1273.2 753.6h0M1279.8 754.5h0M1286.1 751.8h0M1292.5 753.7h0M1299.2 753.3h0M1303.1 752.3h0M1310.5 753.6h0M1316.3 751.6h0M1323.3 752.7h0M1330.4 754.0h0M1335.7 753.4h0M888.5 760.9h0M894.3 758.1h0M920.2 758.7h0M927.8 760.0h0M935.1 760.5h0M939.8 759.0h0M947.7 758.4h0M952.1 759.3h0M959.1 760.5h0M967.1 759.4h0M972.9 758.4h0M991.6 759.3h0M998.0 760.6h0M1004.9 761.1h0M1011.5 758.6h0M1045.2 759.0h0M1057.1 760.8h0M1062.6 758.3h0M1070.6 758.7h0M1075.8 759.6h0M1089.7 759.4h0M1096.5 758.6h0M1103.8 759.1h0M1128.8 759.2h0M1185.9 758.8h0M1194.3 760.4h0M1245.9 758.3h0M1257.9 759.7h0M1266.6 760.2h0M1273.1 759.3h0M1277.4 758.8h0M1285.1 758.7h0M1291.7 760.1h0M1299.0 759.7h0M1305.6 758.9h0M1312.3 759.1h0M1316.0 759.2h0M1323.2 760.0h0M1329.4 759.3h0M796.5 765.5h0M895.3 765.0h0M919.7 766.2h0M926.0 765.4h0M934.5 766.7h0M941.2 764.8h0M947.9 765.5h0M1062.7 765.3h0M1246.1 766.0h0M1264.9 765.2h0M1271.3 766.9h0M1278.7 766.9h0M1283.5 764.6h0M1291.6 765.5h0M1297.3 766.1h0M1304.9 765.3h0M1309.7 765.6h0M1318.4 764.8h0M1325.1 765.4h0M1336.0 766.6h0M895.9 771.1h0M926.9 771.6h0M935.3 772.5h0M940.0 773.9h0M1272.5 771.9h0M1285.3 771.9h0M1291.7 773.8h0M1297.9 771.5h0M1303.6 773.7h0M927.8 780.2h0M1284.9 779.5h0M1298.1 780.2h0M1304.6 778.2h0" fill="none" stroke="#808180" stroke-width="19.6" stroke-linecap="round"/>
<path d="M796.0 647.6C796.6 647.6 795.9 647.5 799.2 647.8C802.4 648.0 809.5 648.6 815.8 649.0C822.0 649.5 829.6 650.1 836.5 650.5C843.4 650.9 850.3 651.2 857.3 651.5C864.2 651.8 871.1 652.0 878.0 652.1C884.9 652.2 891.9 652.2 898.8 652.1C905.7 652.0 912.6 651.8 919.5 651.5C926.5 651.2 933.4 650.9 940.3 650.5C947.2 650.1 954.1 649.5 961.0 649.0C968.0 648.5 974.9 648.0 981.8 647.4C988.7 646.7 995.6 645.9 1002.6 645.3C1009.5 644.7 1016.4 644.1 1023.3 643.6C1030.2 643.1 1037.5 642.6 1044.1 642.2C1050.6 641.8 1055.8 641.6 1062.7 641.1C1069.7 640.6 1078.5 639.7 1085.8 639.3C1093.0 638.8 1099.6 638.6 1106.5 638.2C1113.4 637.9 1120.3 637.6 1127.3 637.2C1134.2 636.8 1141.1 636.3 1148.0 635.7C1154.9 635.1 1161.9 634.5 1168.8 633.6C1175.7 632.7 1182.6 631.6 1189.5 630.3C1196.5 629.0 1203.4 627.4 1210.3 625.8C1217.2 624.1 1224.1 622.5 1231.0 620.6C1238.0 618.7 1244.9 616.4 1251.8 614.3C1258.7 612.3 1265.6 610.3 1272.6 608.1C1279.5 606.0 1286.4 603.7 1293.3 601.5C1300.2 599.2 1305.8 597.4 1314.1 594.6C1322.4 591.9 1338.3 586.5 1343.1 584.9" fill="none" stroke="#0000ff" stroke-width="4.9" stroke-dasharray="18.5 8.2" stroke-dashoffset="-3.5"/>
<path d="M796.0 802.8C796.6 802.9 795.9 802.8 799.2 803.0C802.4 803.3 809.5 803.9 815.8 804.3C822.0 804.7 829.6 805.2 836.5 805.5C843.4 805.9 850.3 806.1 857.3 806.3C864.2 806.6 871.1 806.7 878.0 806.8C884.9 806.8 891.9 806.9 898.8 806.8C905.7 806.7 912.6 806.4 919.5 806.1C926.5 805.9 933.4 805.5 940.3 805.1C947.2 804.7 954.1 804.2 961.0 803.6C968.0 803.1 974.9 802.6 981.8 802.0C988.7 801.4 995.6 800.5 1002.6 799.9C1009.5 799.3 1016.4 798.8 1023.3 798.3C1030.2 797.7 1037.5 797.2 1044.1 796.8C1050.6 796.3 1055.8 796.0 1062.7 795.6C1069.7 795.2 1078.5 794.8 1085.8 794.4C1093.0 794.0 1099.6 793.6 1106.5 793.2C1113.4 792.7 1120.3 792.2 1127.3 791.7C1134.2 791.2 1141.1 790.8 1148.0 790.2C1154.9 789.7 1161.9 789.0 1168.8 788.2C1175.7 787.3 1182.6 786.3 1189.5 785.1C1196.5 783.8 1203.4 782.3 1210.3 780.7C1217.2 779.1 1224.1 777.4 1231.0 775.5C1238.0 773.6 1244.9 771.4 1251.8 769.3C1258.7 767.2 1265.6 765.2 1272.6 763.1C1279.5 760.9 1286.4 758.6 1293.3 756.4C1300.2 754.2 1305.8 752.6 1314.1 749.8C1322.4 747.0 1338.3 741.3 1343.1 739.6" fill="none" stroke="#0000ff" stroke-width="4.9" stroke-dasharray="18.5 8.2" stroke-dashoffset="-3.5"/>
<path d="M796.0 725.0C796.6 725.0 795.9 724.9 799.2 725.2C802.4 725.5 809.5 726.2 815.8 726.6C822.0 727.1 829.6 727.5 836.5 727.9C843.4 728.3 850.3 728.7 857.3 728.9C864.2 729.2 871.1 729.4 878.0 729.6C884.9 729.7 891.9 729.7 898.8 729.6C905.7 729.4 912.6 729.2 919.5 728.9C926.5 728.7 933.4 728.3 940.3 727.9C947.2 727.4 954.1 726.8 961.0 726.2C968.0 725.7 974.9 725.2 981.8 724.6C988.7 724.0 995.6 723.3 1002.6 722.7C1009.5 722.1 1016.4 721.6 1023.3 721.0C1030.2 720.5 1037.5 719.8 1044.1 719.4C1050.6 718.9 1055.8 718.7 1062.7 718.3C1069.7 717.9 1078.5 717.4 1085.8 717.0C1093.0 716.6 1099.6 716.3 1106.5 715.9C1113.4 715.6 1120.3 715.4 1127.3 714.9C1134.2 714.5 1141.1 713.9 1148.0 713.2C1154.9 712.6 1161.9 712.1 1168.8 711.2C1175.7 710.2 1182.6 709.3 1189.5 707.6C1196.5 706.0 1203.4 703.4 1210.3 701.5C1217.2 699.6 1224.1 698.2 1231.0 696.3C1238.0 694.4 1244.9 692.2 1251.8 690.1C1258.7 688.0 1265.6 686.0 1272.6 683.9C1279.5 681.8 1286.4 679.7 1293.3 677.6C1300.2 675.6 1305.8 674.1 1314.1 671.4C1322.4 668.8 1338.3 663.5 1343.1 661.9" fill="none" stroke="#ff2a12" stroke-width="4.9" stroke-dasharray="18.5 8.2" stroke-dashoffset="-3.5"/>
<rect x="1176.0" y="508.9" width="13.90" height="368.7" fill="#318a1d"/>
<rect x="1181.0" y="508.9" width="3.90" height="368.7" fill="#eea52d"/>
</g>
<rect x="796.8" y="490.6" width="543.9" height="406.0" fill="none" stroke="#000" stroke-width="2.6"/>
<line x1="796.8" y1="896.6" x2="796.8" y2="908.8000000000001" stroke="#000" stroke-width="2.6"/>
<text transform="translate(796.8 945.4) scale(0.968 1)" font-size="34.5" text-anchor="middle">1700</text>
<line x1="966.8" y1="896.6" x2="966.8" y2="908.8000000000001" stroke="#000" stroke-width="2.6"/>
<text transform="translate(966.8 945.4) scale(0.968 1)" font-size="34.5" text-anchor="middle">1800</text>
<line x1="1136.7" y1="896.6" x2="1136.7" y2="908.8000000000001" stroke="#000" stroke-width="2.6"/>
<text transform="translate(1136.7 945.4) scale(0.968 1)" font-size="34.5" text-anchor="middle">1900</text>
<line x1="1306.7" y1="896.6" x2="1306.7" y2="908.8000000000001" stroke="#000" stroke-width="2.6"/>
<text transform="translate(1306.7 945.4) scale(0.968 1)" font-size="34.5" text-anchor="middle">2000</text>
<line x1="796.8" y1="530.1" x2="784.5999999999999" y2="530.1" stroke="#000" stroke-width="2.6"/>
<text transform="translate(772.4 542.8) scale(0.975 1)" font-size="34.5" text-anchor="end">4.0</text>
<line x1="796.8" y1="617.1" x2="784.5999999999999" y2="617.1" stroke="#000" stroke-width="2.6"/>
<text transform="translate(772.4 629.8) scale(0.975 1)" font-size="34.5" text-anchor="end">2.0</text>
<line x1="796.8" y1="704.0" x2="784.5999999999999" y2="704.0" stroke="#000" stroke-width="2.6"/>
<text transform="translate(772.4 716.7) scale(0.975 1)" font-size="34.5" text-anchor="end">0.0</text>
<line x1="796.8" y1="790.9" x2="784.5999999999999" y2="790.9" stroke="#000" stroke-width="2.6"/>
<text transform="translate(772.4 803.6) scale(0.975 1)" font-size="34.5" text-anchor="end">-2.0</text>
<line x1="796.8" y1="877.9" x2="784.5999999999999" y2="877.9" stroke="#000" stroke-width="2.6"/>
<text transform="translate(772.4 890.6) scale(0.975 1)" font-size="34.5" text-anchor="end">-4.0</text>
<text x="802.2" y="524.3" font-size="39.3">d</text>
</g>
<text transform="translate(32 206.2) rotate(-90) scale(0.985 1)" font-size="34.5" text-anchor="middle">Normalized δ<tspan font-size="24.2" dy="-12.5">15</tspan><tspan dy="12.5">N</tspan></text>
<text transform="translate(32.3 693.6) rotate(-90) scale(0.972 1)" font-size="34.5" text-anchor="middle">Normalized TN</text>
<text transform="translate(415.2 993.5) scale(0.962 1)" font-size="34.5" text-anchor="middle">Year</text>
<text transform="translate(1068.7 993.5) scale(0.962 1)" font-size="34.5" text-anchor="middle">Year</text>
</svg></body></html>
